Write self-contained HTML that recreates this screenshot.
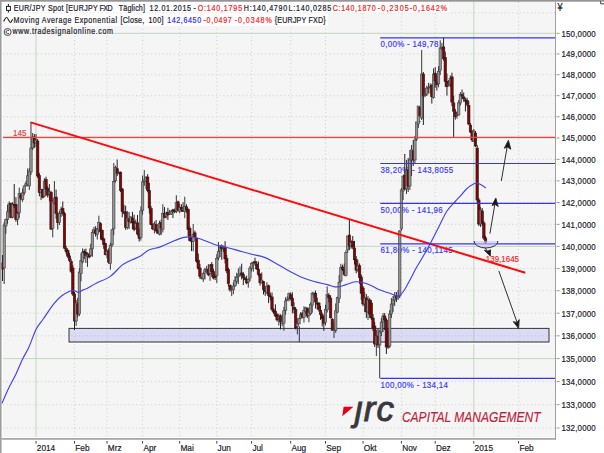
<!DOCTYPE html>
<html><head><meta charset="utf-8"><style>
html,body{margin:0;padding:0;background:#fff;}
body{width:604px;height:453px;overflow:hidden;position:relative;font-family:"Liberation Sans",sans-serif;}
svg{position:absolute;left:0;top:0;font-family:"Liberation Sans",sans-serif;}
</style></head><body>
<svg width="604" height="453" viewBox="0 0 604 453">
<rect x="0" y="0" width="604" height="453" fill="#fff"/>
<rect x="3" y="2" width="552" height="435" fill="#f5f5f5"/>
<line x1="3" y1="428.01" x2="555" y2="428.01" stroke="#c6d2c6" stroke-width="1" stroke-dasharray="1 2.8"/>
<line x1="3" y1="404.71" x2="555" y2="404.71" stroke="#c6d2c6" stroke-width="1" stroke-dasharray="1 2.8"/>
<line x1="3" y1="381.58" x2="555" y2="381.58" stroke="#c6d2c6" stroke-width="1" stroke-dasharray="1 2.8"/>
<line x1="3" y1="358.62" x2="555" y2="358.62" stroke="#c4d4bf" stroke-width="1"/>
<line x1="3" y1="335.83" x2="555" y2="335.83" stroke="#c6d2c6" stroke-width="1" stroke-dasharray="1 2.8"/>
<line x1="3" y1="313.21" x2="555" y2="313.21" stroke="#c6d2c6" stroke-width="1" stroke-dasharray="1 2.8"/>
<line x1="3" y1="290.76" x2="555" y2="290.76" stroke="#c6d2c6" stroke-width="1" stroke-dasharray="1 2.8"/>
<line x1="3" y1="268.46" x2="555" y2="268.46" stroke="#c6d2c6" stroke-width="1" stroke-dasharray="1 2.8"/>
<line x1="3" y1="246.33" x2="555" y2="246.33" stroke="#c4d4bf" stroke-width="1"/>
<line x1="3" y1="224.35" x2="555" y2="224.35" stroke="#c6d2c6" stroke-width="1" stroke-dasharray="1 2.8"/>
<line x1="3" y1="202.53" x2="555" y2="202.53" stroke="#c6d2c6" stroke-width="1" stroke-dasharray="1 2.8"/>
<line x1="3" y1="180.86" x2="555" y2="180.86" stroke="#c6d2c6" stroke-width="1" stroke-dasharray="1 2.8"/>
<line x1="3" y1="159.35" x2="555" y2="159.35" stroke="#c6d2c6" stroke-width="1" stroke-dasharray="1 2.8"/>
<line x1="3" y1="137.98" x2="555" y2="137.98" stroke="#c4d4bf" stroke-width="1"/>
<line x1="3" y1="116.76" x2="555" y2="116.76" stroke="#c6d2c6" stroke-width="1" stroke-dasharray="1 2.8"/>
<line x1="3" y1="95.68" x2="555" y2="95.68" stroke="#c6d2c6" stroke-width="1" stroke-dasharray="1 2.8"/>
<line x1="3" y1="74.75" x2="555" y2="74.75" stroke="#c6d2c6" stroke-width="1" stroke-dasharray="1 2.8"/>
<line x1="3" y1="53.95" x2="555" y2="53.95" stroke="#c6d2c6" stroke-width="1" stroke-dasharray="1 2.8"/>
<line x1="113" y1="33.3" x2="555" y2="33.3" stroke="#c4d4bf" stroke-width="1"/>
<line x1="3" y1="12.78" x2="555" y2="12.78" stroke="#c6d2c6" stroke-width="1" stroke-dasharray="1 2.8"/>
<line x1="36" y1="2" x2="36" y2="437" stroke="#c4d4bf" stroke-width="1"/>
<line x1="74.5" y1="2" x2="74.5" y2="437" stroke="#c6d2c6" stroke-width="1" stroke-dasharray="1 2.8"/>
<line x1="107" y1="2" x2="107" y2="437" stroke="#c6d2c6" stroke-width="1" stroke-dasharray="1 2.8"/>
<line x1="142.6" y1="2" x2="142.6" y2="437" stroke="#c6d2c6" stroke-width="1" stroke-dasharray="1 2.8"/>
<line x1="179.7" y1="2" x2="179.7" y2="437" stroke="#c6d2c6" stroke-width="1" stroke-dasharray="1 2.8"/>
<line x1="216.8" y1="2" x2="216.8" y2="437" stroke="#c6d2c6" stroke-width="1" stroke-dasharray="1 2.8"/>
<line x1="251.6" y1="2" x2="251.6" y2="437" stroke="#c6d2c6" stroke-width="1" stroke-dasharray="1 2.8"/>
<line x1="290.7" y1="2" x2="290.7" y2="437" stroke="#c6d2c6" stroke-width="1" stroke-dasharray="1 2.8"/>
<line x1="325.5" y1="2" x2="325.5" y2="437" stroke="#c6d2c6" stroke-width="1" stroke-dasharray="1 2.8"/>
<line x1="363" y1="2" x2="363" y2="437" stroke="#c6d2c6" stroke-width="1" stroke-dasharray="1 2.8"/>
<line x1="401.4" y1="2" x2="401.4" y2="437" stroke="#c6d2c6" stroke-width="1" stroke-dasharray="1 2.8"/>
<line x1="435.2" y1="2" x2="435.2" y2="437" stroke="#c6d2c6" stroke-width="1" stroke-dasharray="1 2.8"/>
<line x1="473.8" y1="2" x2="473.8" y2="437" stroke="#c4d4bf" stroke-width="1"/>
<line x1="518.6" y1="2" x2="518.6" y2="437" stroke="#c6d2c6" stroke-width="1" stroke-dasharray="1 2.8"/>
<rect x="3" y="1.7" width="446" height="10.8" fill="#fff"/>
<rect x="3" y="13.3" width="325" height="12.4" fill="#fff"/>
<rect x="68.2" y="327.2" width="481.6" height="16.4" fill="none" stroke="#fff" stroke-width="1.2"/>
<rect x="69" y="328.4" width="480" height="13.6" fill="rgba(168,168,244,0.33)" stroke="#404040" stroke-width="1.1"/>
<line x1="299.3" y1="326.2" x2="299.3" y2="342" stroke="#303048" stroke-width="1"/>
<text transform="scale(0.86,1)" x="442.56" y="47.23" textLength="67.09" lengthAdjust="spacing" font-size="9.2" fill="#3a3af8" stroke="#3a3af8" stroke-width="0.2" >0,00% - 149,78</text>
<text transform="scale(0.86,1)" x="442.56" y="173.02" textLength="84.30" lengthAdjust="spacing" font-size="9.2" fill="#3a3af8" stroke="#3a3af8" stroke-width="0.2" >38,20% - 143,8055</text>
<text transform="scale(0.86,1)" x="442.56" y="213" textLength="72.21" lengthAdjust="spacing" font-size="9.2" fill="#3a3af8" stroke="#3a3af8" stroke-width="0.2" >50,00% - 141,96</text>
<text transform="scale(0.86,1)" x="442.56" y="253.21" textLength="83.84" lengthAdjust="spacing" font-size="9.2" fill="#3a3af8" stroke="#3a3af8" stroke-width="0.2" >61,80% - 140,1145</text>
<text transform="scale(0.86,1)" x="442.56" y="387.85" textLength="78.37" lengthAdjust="spacing" font-size="9.2" fill="#3a3af8" stroke="#3a3af8" stroke-width="0.2" >100,00% - 134,14</text>
<line x1="2.52" y1="255" x2="2.52" y2="281" stroke="#202020" stroke-width="1"/>
<rect x="1.32" y="263" width="2.4" height="6" fill="#8e0000" stroke="#1a1a1a" stroke-width="0.6"/>
<line x1="4.2" y1="222" x2="4.2" y2="284" stroke="#383838" stroke-width="1"/>
<rect x="3" y="225" width="2.4" height="43" fill="#939393" stroke="#3a3a3a" stroke-width="0.6"/>
<line x1="5.87" y1="218.68" x2="5.87" y2="233.72" stroke="#383838" stroke-width="1"/>
<rect x="4.67" y="219.73" width="2.4" height="6.25" fill="#939393" stroke="#3a3a3a" stroke-width="0.6"/>
<line x1="7.54" y1="204.59" x2="7.54" y2="223.87" stroke="#383838" stroke-width="1"/>
<rect x="6.34" y="211.78" width="2.4" height="7.65" fill="#939393" stroke="#3a3a3a" stroke-width="0.6"/>
<line x1="9.22" y1="201.22" x2="9.22" y2="212.58" stroke="#383838" stroke-width="1"/>
<rect x="8.02" y="203.76" width="2.4" height="6.87" fill="#939393" stroke="#3a3a3a" stroke-width="0.6"/>
<line x1="10.89" y1="202.72" x2="10.89" y2="218.31" stroke="#202020" stroke-width="1"/>
<rect x="9.69" y="203.38" width="2.4" height="13.92" fill="#8e0000" stroke="#1a1a1a" stroke-width="0.6"/>
<line x1="12.57" y1="202.09" x2="12.57" y2="218.33" stroke="#383838" stroke-width="1"/>
<rect x="11.37" y="204.06" width="2.4" height="13.03" fill="#939393" stroke="#3a3a3a" stroke-width="0.6"/>
<line x1="14.24" y1="184" x2="14.24" y2="207.88" stroke="#202020" stroke-width="1"/>
<rect x="13.04" y="204.65" width="2.4" height="1" fill="#8e0000" stroke="#1a1a1a" stroke-width="0.6"/>
<line x1="15.91" y1="197.09" x2="15.91" y2="221.79" stroke="#202020" stroke-width="1"/>
<rect x="14.71" y="204.56" width="2.4" height="14.84" fill="#8e0000" stroke="#1a1a1a" stroke-width="0.6"/>
<line x1="17.59" y1="211.27" x2="17.59" y2="225.23" stroke="#383838" stroke-width="1"/>
<rect x="16.39" y="213.44" width="2.4" height="5.93" fill="#939393" stroke="#3a3a3a" stroke-width="0.6"/>
<line x1="19.26" y1="187.61" x2="19.26" y2="218.17" stroke="#383838" stroke-width="1"/>
<rect x="18.06" y="193.58" width="2.4" height="19.3" fill="#939393" stroke="#3a3a3a" stroke-width="0.6"/>
<line x1="20.93" y1="192.76" x2="20.93" y2="200.35" stroke="#202020" stroke-width="1"/>
<rect x="19.73" y="194.92" width="2.4" height="3.18" fill="#8e0000" stroke="#1a1a1a" stroke-width="0.6"/>
<line x1="22.61" y1="188.5" x2="22.61" y2="201.74" stroke="#383838" stroke-width="1"/>
<rect x="21.41" y="192.93" width="2.4" height="6.65" fill="#939393" stroke="#3a3a3a" stroke-width="0.6"/>
<line x1="24.28" y1="185.18" x2="24.28" y2="195.23" stroke="#383838" stroke-width="1"/>
<rect x="23.08" y="185.98" width="2.4" height="6.84" fill="#939393" stroke="#3a3a3a" stroke-width="0.6"/>
<line x1="25.96" y1="181.03" x2="25.96" y2="186.84" stroke="#383838" stroke-width="1"/>
<rect x="24.76" y="183.7" width="2.4" height="1.51" fill="#939393" stroke="#3a3a3a" stroke-width="0.6"/>
<line x1="27.63" y1="168.45" x2="27.63" y2="186.39" stroke="#383838" stroke-width="1"/>
<rect x="26.43" y="175.77" width="2.4" height="9.09" fill="#939393" stroke="#3a3a3a" stroke-width="0.6"/>
<line x1="29.3" y1="168" x2="29.3" y2="190" stroke="#383838" stroke-width="1"/>
<rect x="28.1" y="171" width="2.4" height="15" fill="#939393" stroke="#3a3a3a" stroke-width="0.6"/>
<line x1="30.98" y1="122" x2="30.98" y2="175" stroke="#383838" stroke-width="1"/>
<rect x="29.78" y="148" width="2.4" height="24" fill="#939393" stroke="#3a3a3a" stroke-width="0.6"/>
<line x1="32.65" y1="133" x2="32.65" y2="150" stroke="#383838" stroke-width="1"/>
<rect x="31.45" y="137" width="2.4" height="11" fill="#939393" stroke="#3a3a3a" stroke-width="0.6"/>
<line x1="34.33" y1="134" x2="34.33" y2="148" stroke="#202020" stroke-width="1"/>
<rect x="33.13" y="137" width="2.4" height="6" fill="#8e0000" stroke="#1a1a1a" stroke-width="0.6"/>
<line x1="36" y1="134" x2="36" y2="147" stroke="#383838" stroke-width="1"/>
<rect x="34.8" y="140" width="2.4" height="3" fill="#939393" stroke="#3a3a3a" stroke-width="0.6"/>
<line x1="37.67" y1="139" x2="37.67" y2="178" stroke="#202020" stroke-width="1"/>
<rect x="36.47" y="141" width="2.4" height="35" fill="#8e0000" stroke="#1a1a1a" stroke-width="0.6"/>
<line x1="39.35" y1="172.9" x2="39.35" y2="196.32" stroke="#202020" stroke-width="1"/>
<rect x="38.15" y="175.59" width="2.4" height="16.98" fill="#8e0000" stroke="#1a1a1a" stroke-width="0.6"/>
<line x1="41.02" y1="188.91" x2="41.02" y2="200.08" stroke="#383838" stroke-width="1"/>
<rect x="39.82" y="189.72" width="2.4" height="2.4" fill="#939393" stroke="#3a3a3a" stroke-width="0.6"/>
<line x1="42.7" y1="188.91" x2="42.7" y2="198.41" stroke="#202020" stroke-width="1"/>
<rect x="41.5" y="189.67" width="2.4" height="7.58" fill="#8e0000" stroke="#1a1a1a" stroke-width="0.6"/>
<line x1="44.37" y1="178.22" x2="44.37" y2="197.1" stroke="#383838" stroke-width="1"/>
<rect x="43.17" y="181.1" width="2.4" height="15.13" fill="#939393" stroke="#3a3a3a" stroke-width="0.6"/>
<line x1="46.04" y1="176.74" x2="46.04" y2="195.52" stroke="#202020" stroke-width="1"/>
<rect x="44.84" y="179.68" width="2.4" height="9.35" fill="#8e0000" stroke="#1a1a1a" stroke-width="0.6"/>
<line x1="47.72" y1="186.21" x2="47.72" y2="197.5" stroke="#202020" stroke-width="1"/>
<rect x="46.52" y="188.64" width="2.4" height="6.42" fill="#8e0000" stroke="#1a1a1a" stroke-width="0.6"/>
<line x1="49.39" y1="183.97" x2="49.39" y2="201.26" stroke="#383838" stroke-width="1"/>
<rect x="48.19" y="191.9" width="2.4" height="2.33" fill="#939393" stroke="#3a3a3a" stroke-width="0.6"/>
<line x1="51.07" y1="190.82" x2="51.07" y2="229.73" stroke="#202020" stroke-width="1"/>
<rect x="49.87" y="192.62" width="2.4" height="36.54" fill="#8e0000" stroke="#1a1a1a" stroke-width="0.6"/>
<line x1="52.74" y1="199.52" x2="52.74" y2="237.28" stroke="#383838" stroke-width="1"/>
<rect x="51.54" y="201.75" width="2.4" height="26.74" fill="#939393" stroke="#3a3a3a" stroke-width="0.6"/>
<line x1="54.41" y1="181" x2="54.41" y2="204.28" stroke="#383838" stroke-width="1"/>
<rect x="53.21" y="197.96" width="2.4" height="5.25" fill="#939393" stroke="#3a3a3a" stroke-width="0.6"/>
<line x1="56.09" y1="189.57" x2="56.09" y2="218.81" stroke="#202020" stroke-width="1"/>
<rect x="54.89" y="197.07" width="2.4" height="16.34" fill="#8e0000" stroke="#1a1a1a" stroke-width="0.6"/>
<line x1="57.76" y1="212.16" x2="57.76" y2="229.53" stroke="#202020" stroke-width="1"/>
<rect x="56.56" y="214.32" width="2.4" height="8.31" fill="#8e0000" stroke="#1a1a1a" stroke-width="0.6"/>
<line x1="59.43" y1="211" x2="59.43" y2="225.06" stroke="#383838" stroke-width="1"/>
<rect x="58.23" y="213.47" width="2.4" height="9.08" fill="#939393" stroke="#3a3a3a" stroke-width="0.6"/>
<line x1="61.11" y1="206.66" x2="61.11" y2="217.01" stroke="#383838" stroke-width="1"/>
<rect x="59.91" y="209.53" width="2.4" height="3.63" fill="#939393" stroke="#3a3a3a" stroke-width="0.6"/>
<line x1="62.78" y1="201.45" x2="62.78" y2="215.69" stroke="#202020" stroke-width="1"/>
<rect x="61.58" y="208.48" width="2.4" height="4.64" fill="#8e0000" stroke="#1a1a1a" stroke-width="0.6"/>
<line x1="64.46" y1="211.72" x2="64.46" y2="248.72" stroke="#202020" stroke-width="1"/>
<rect x="63.26" y="213.59" width="2.4" height="34.59" fill="#8e0000" stroke="#1a1a1a" stroke-width="0.6"/>
<line x1="66.13" y1="245.79" x2="66.13" y2="254.13" stroke="#202020" stroke-width="1"/>
<rect x="64.93" y="248.63" width="2.4" height="2.82" fill="#8e0000" stroke="#1a1a1a" stroke-width="0.6"/>
<line x1="67.8" y1="249.35" x2="67.8" y2="258.07" stroke="#202020" stroke-width="1"/>
<rect x="66.6" y="250.58" width="2.4" height="5.53" fill="#8e0000" stroke="#1a1a1a" stroke-width="0.6"/>
<line x1="69.48" y1="253.09" x2="69.48" y2="262" stroke="#202020" stroke-width="1"/>
<rect x="68.28" y="255.86" width="2.4" height="4.49" fill="#8e0000" stroke="#1a1a1a" stroke-width="0.6"/>
<line x1="71.15" y1="258.78" x2="71.15" y2="273.13" stroke="#202020" stroke-width="1"/>
<rect x="69.95" y="261.57" width="2.4" height="9.73" fill="#8e0000" stroke="#1a1a1a" stroke-width="0.6"/>
<line x1="72.83" y1="265" x2="72.83" y2="296" stroke="#202020" stroke-width="1"/>
<rect x="71.63" y="268" width="2.4" height="26" fill="#8e0000" stroke="#1a1a1a" stroke-width="0.6"/>
<line x1="74.5" y1="292" x2="74.5" y2="330" stroke="#202020" stroke-width="1"/>
<rect x="73.3" y="294" width="2.4" height="27" fill="#8e0000" stroke="#1a1a1a" stroke-width="0.6"/>
<line x1="76.12" y1="300" x2="76.12" y2="326" stroke="#383838" stroke-width="1"/>
<rect x="74.92" y="303" width="2.4" height="18" fill="#939393" stroke="#3a3a3a" stroke-width="0.6"/>
<line x1="77.75" y1="298" x2="77.75" y2="317" stroke="#202020" stroke-width="1"/>
<rect x="76.55" y="304" width="2.4" height="10" fill="#8e0000" stroke="#1a1a1a" stroke-width="0.6"/>
<line x1="79.38" y1="268" x2="79.38" y2="316" stroke="#383838" stroke-width="1"/>
<rect x="78.17" y="272" width="2.4" height="42" fill="#939393" stroke="#3a3a3a" stroke-width="0.6"/>
<line x1="81" y1="253.12" x2="81" y2="281.36" stroke="#383838" stroke-width="1"/>
<rect x="79.8" y="260.51" width="2.4" height="12.82" fill="#939393" stroke="#3a3a3a" stroke-width="0.6"/>
<line x1="82.62" y1="248.46" x2="82.62" y2="263.44" stroke="#383838" stroke-width="1"/>
<rect x="81.42" y="252.15" width="2.4" height="9.69" fill="#939393" stroke="#3a3a3a" stroke-width="0.6"/>
<line x1="84.25" y1="249.19" x2="84.25" y2="259.16" stroke="#202020" stroke-width="1"/>
<rect x="83.05" y="251.37" width="2.4" height="1" fill="#8e0000" stroke="#1a1a1a" stroke-width="0.6"/>
<line x1="85.88" y1="248.61" x2="85.88" y2="263.01" stroke="#202020" stroke-width="1"/>
<rect x="84.67" y="252.32" width="2.4" height="2.85" fill="#8e0000" stroke="#1a1a1a" stroke-width="0.6"/>
<line x1="87.5" y1="252.55" x2="87.5" y2="266.86" stroke="#383838" stroke-width="1"/>
<rect x="86.3" y="254.26" width="2.4" height="2.26" fill="#939393" stroke="#3a3a3a" stroke-width="0.6"/>
<line x1="89.12" y1="252.71" x2="89.12" y2="258.35" stroke="#202020" stroke-width="1"/>
<rect x="87.92" y="254.06" width="2.4" height="3" fill="#8e0000" stroke="#1a1a1a" stroke-width="0.6"/>
<line x1="90.75" y1="243.69" x2="90.75" y2="256.94" stroke="#383838" stroke-width="1"/>
<rect x="89.55" y="248.89" width="2.4" height="6.72" fill="#939393" stroke="#3a3a3a" stroke-width="0.6"/>
<line x1="92.38" y1="229.71" x2="92.38" y2="256.79" stroke="#383838" stroke-width="1"/>
<rect x="91.17" y="232.68" width="2.4" height="16.25" fill="#939393" stroke="#3a3a3a" stroke-width="0.6"/>
<line x1="94" y1="226.79" x2="94" y2="232.8" stroke="#383838" stroke-width="1"/>
<rect x="92.8" y="229.24" width="2.4" height="2.74" fill="#939393" stroke="#3a3a3a" stroke-width="0.6"/>
<line x1="95.62" y1="226.18" x2="95.62" y2="236.59" stroke="#202020" stroke-width="1"/>
<rect x="94.42" y="230.47" width="2.4" height="3.33" fill="#8e0000" stroke="#1a1a1a" stroke-width="0.6"/>
<line x1="97.25" y1="227.98" x2="97.25" y2="239.52" stroke="#383838" stroke-width="1"/>
<rect x="96.05" y="228.63" width="2.4" height="5.77" fill="#939393" stroke="#3a3a3a" stroke-width="0.6"/>
<line x1="98.88" y1="215.64" x2="98.88" y2="232.58" stroke="#383838" stroke-width="1"/>
<rect x="97.67" y="222.65" width="2.4" height="7.3" fill="#939393" stroke="#3a3a3a" stroke-width="0.6"/>
<line x1="100.5" y1="222.39" x2="100.5" y2="239.21" stroke="#202020" stroke-width="1"/>
<rect x="99.3" y="223.73" width="2.4" height="7.85" fill="#8e0000" stroke="#1a1a1a" stroke-width="0.6"/>
<line x1="102.12" y1="229.37" x2="102.12" y2="240.67" stroke="#202020" stroke-width="1"/>
<rect x="100.92" y="230.47" width="2.4" height="9.3" fill="#8e0000" stroke="#1a1a1a" stroke-width="0.6"/>
<line x1="103.75" y1="237.61" x2="103.75" y2="248.84" stroke="#202020" stroke-width="1"/>
<rect x="102.55" y="238.87" width="2.4" height="5.52" fill="#8e0000" stroke="#1a1a1a" stroke-width="0.6"/>
<line x1="105.38" y1="242.88" x2="105.38" y2="255.24" stroke="#202020" stroke-width="1"/>
<rect x="104.17" y="243.42" width="2.4" height="11.29" fill="#8e0000" stroke="#1a1a1a" stroke-width="0.6"/>
<line x1="107" y1="249.45" x2="107" y2="258.39" stroke="#383838" stroke-width="1"/>
<rect x="105.8" y="251.14" width="2.4" height="3.72" fill="#939393" stroke="#3a3a3a" stroke-width="0.6"/>
<line x1="108.7" y1="248.35" x2="108.7" y2="263.86" stroke="#202020" stroke-width="1"/>
<rect x="107.5" y="250.94" width="2.4" height="11.15" fill="#8e0000" stroke="#1a1a1a" stroke-width="0.6"/>
<line x1="110.39" y1="242.61" x2="110.39" y2="269.72" stroke="#383838" stroke-width="1"/>
<rect x="109.19" y="245.19" width="2.4" height="18.34" fill="#939393" stroke="#3a3a3a" stroke-width="0.6"/>
<line x1="112.09" y1="228.99" x2="112.09" y2="247.09" stroke="#383838" stroke-width="1"/>
<rect x="110.89" y="229.82" width="2.4" height="14.92" fill="#939393" stroke="#3a3a3a" stroke-width="0.6"/>
<line x1="113.78" y1="163" x2="113.78" y2="235.16" stroke="#383838" stroke-width="1"/>
<rect x="112.58" y="181.63" width="2.4" height="47.18" fill="#939393" stroke="#3a3a3a" stroke-width="0.6"/>
<line x1="115.48" y1="165.68" x2="115.48" y2="182.47" stroke="#383838" stroke-width="1"/>
<rect x="114.28" y="167.33" width="2.4" height="13.52" fill="#939393" stroke="#3a3a3a" stroke-width="0.6"/>
<line x1="117.17" y1="159.53" x2="117.17" y2="176.1" stroke="#202020" stroke-width="1"/>
<rect x="115.97" y="168.72" width="2.4" height="4.47" fill="#8e0000" stroke="#1a1a1a" stroke-width="0.6"/>
<line x1="118.87" y1="171.09" x2="118.87" y2="174.51" stroke="#383838" stroke-width="1"/>
<rect x="117.67" y="172.55" width="2.4" height="1" fill="#939393" stroke="#3a3a3a" stroke-width="0.6"/>
<line x1="120.56" y1="171.4" x2="120.56" y2="191.97" stroke="#202020" stroke-width="1"/>
<rect x="119.36" y="172.56" width="2.4" height="17.91" fill="#8e0000" stroke="#1a1a1a" stroke-width="0.6"/>
<line x1="122.26" y1="187.95" x2="122.26" y2="217.25" stroke="#202020" stroke-width="1"/>
<rect x="121.06" y="189.03" width="2.4" height="22.57" fill="#8e0000" stroke="#1a1a1a" stroke-width="0.6"/>
<line x1="123.95" y1="204.68" x2="123.95" y2="214.26" stroke="#202020" stroke-width="1"/>
<rect x="122.75" y="212.08" width="2.4" height="1" fill="#8e0000" stroke="#1a1a1a" stroke-width="0.6"/>
<line x1="125.65" y1="205.68" x2="125.65" y2="229.82" stroke="#202020" stroke-width="1"/>
<rect x="124.45" y="211.9" width="2.4" height="15.34" fill="#8e0000" stroke="#1a1a1a" stroke-width="0.6"/>
<line x1="127.34" y1="211.04" x2="127.34" y2="229.43" stroke="#383838" stroke-width="1"/>
<rect x="126.14" y="218.1" width="2.4" height="9.52" fill="#939393" stroke="#3a3a3a" stroke-width="0.6"/>
<line x1="129.04" y1="211.97" x2="129.04" y2="228.92" stroke="#202020" stroke-width="1"/>
<rect x="127.84" y="219.1" width="2.4" height="2.36" fill="#8e0000" stroke="#1a1a1a" stroke-width="0.6"/>
<line x1="130.73" y1="216.38" x2="130.73" y2="223.44" stroke="#383838" stroke-width="1"/>
<rect x="129.53" y="216.95" width="2.4" height="5.08" fill="#939393" stroke="#3a3a3a" stroke-width="0.6"/>
<line x1="132.43" y1="211.82" x2="132.43" y2="229.25" stroke="#202020" stroke-width="1"/>
<rect x="131.23" y="217.96" width="2.4" height="4.89" fill="#8e0000" stroke="#1a1a1a" stroke-width="0.6"/>
<line x1="134.12" y1="214.62" x2="134.12" y2="231.19" stroke="#202020" stroke-width="1"/>
<rect x="132.92" y="221.36" width="2.4" height="7.99" fill="#8e0000" stroke="#1a1a1a" stroke-width="0.6"/>
<line x1="135.82" y1="219.46" x2="135.82" y2="229.21" stroke="#383838" stroke-width="1"/>
<rect x="134.62" y="223.72" width="2.4" height="4.33" fill="#939393" stroke="#3a3a3a" stroke-width="0.6"/>
<line x1="137.51" y1="214.96" x2="137.51" y2="235.46" stroke="#202020" stroke-width="1"/>
<rect x="136.31" y="222.84" width="2.4" height="11.17" fill="#8e0000" stroke="#1a1a1a" stroke-width="0.6"/>
<line x1="139.21" y1="228.47" x2="139.21" y2="241.64" stroke="#202020" stroke-width="1"/>
<rect x="138.01" y="234.56" width="2.4" height="3.7" fill="#8e0000" stroke="#1a1a1a" stroke-width="0.6"/>
<line x1="140.9" y1="206.37" x2="140.9" y2="240.58" stroke="#383838" stroke-width="1"/>
<rect x="139.7" y="210.89" width="2.4" height="26.62" fill="#939393" stroke="#3a3a3a" stroke-width="0.6"/>
<line x1="142.6" y1="175.43" x2="142.6" y2="214.66" stroke="#383838" stroke-width="1"/>
<rect x="141.4" y="181.89" width="2.4" height="28.31" fill="#939393" stroke="#3a3a3a" stroke-width="0.6"/>
<line x1="144.29" y1="170" x2="144.29" y2="185.78" stroke="#383838" stroke-width="1"/>
<rect x="143.09" y="179.8" width="2.4" height="1.99" fill="#939393" stroke="#3a3a3a" stroke-width="0.6"/>
<line x1="145.97" y1="176.1" x2="145.97" y2="188.95" stroke="#383838" stroke-width="1"/>
<rect x="144.77" y="177.74" width="2.4" height="3.37" fill="#939393" stroke="#3a3a3a" stroke-width="0.6"/>
<line x1="147.66" y1="174.19" x2="147.66" y2="192.33" stroke="#202020" stroke-width="1"/>
<rect x="146.46" y="177.05" width="2.4" height="13.32" fill="#8e0000" stroke="#1a1a1a" stroke-width="0.6"/>
<line x1="149.35" y1="182.91" x2="149.35" y2="213.57" stroke="#202020" stroke-width="1"/>
<rect x="148.15" y="190.44" width="2.4" height="17.58" fill="#8e0000" stroke="#1a1a1a" stroke-width="0.6"/>
<line x1="151.03" y1="205.89" x2="151.03" y2="225.23" stroke="#202020" stroke-width="1"/>
<rect x="149.83" y="208.64" width="2.4" height="16.03" fill="#8e0000" stroke="#1a1a1a" stroke-width="0.6"/>
<line x1="152.72" y1="223.38" x2="152.72" y2="230.11" stroke="#202020" stroke-width="1"/>
<rect x="151.52" y="224.64" width="2.4" height="4.11" fill="#8e0000" stroke="#1a1a1a" stroke-width="0.6"/>
<line x1="154.4" y1="221.45" x2="154.4" y2="233.37" stroke="#383838" stroke-width="1"/>
<rect x="153.2" y="223.83" width="2.4" height="5.94" fill="#939393" stroke="#3a3a3a" stroke-width="0.6"/>
<line x1="156.09" y1="220.02" x2="156.09" y2="232.2" stroke="#202020" stroke-width="1"/>
<rect x="154.89" y="224.47" width="2.4" height="6.24" fill="#8e0000" stroke="#1a1a1a" stroke-width="0.6"/>
<line x1="157.78" y1="229.41" x2="157.78" y2="233.79" stroke="#202020" stroke-width="1"/>
<rect x="156.58" y="230.98" width="2.4" height="2.19" fill="#8e0000" stroke="#1a1a1a" stroke-width="0.6"/>
<line x1="159.46" y1="220.7" x2="159.46" y2="235.33" stroke="#383838" stroke-width="1"/>
<rect x="158.26" y="223.54" width="2.4" height="10.63" fill="#939393" stroke="#3a3a3a" stroke-width="0.6"/>
<line x1="161.15" y1="219.72" x2="161.15" y2="235.07" stroke="#202020" stroke-width="1"/>
<rect x="159.95" y="222.61" width="2.4" height="5.41" fill="#8e0000" stroke="#1a1a1a" stroke-width="0.6"/>
<line x1="162.84" y1="204.24" x2="162.84" y2="232.5" stroke="#383838" stroke-width="1"/>
<rect x="161.64" y="213.44" width="2.4" height="15.81" fill="#939393" stroke="#3a3a3a" stroke-width="0.6"/>
<line x1="164.52" y1="207.07" x2="164.52" y2="217.93" stroke="#202020" stroke-width="1"/>
<rect x="163.32" y="213.29" width="2.4" height="4.02" fill="#8e0000" stroke="#1a1a1a" stroke-width="0.6"/>
<line x1="166.21" y1="211.69" x2="166.21" y2="218.53" stroke="#383838" stroke-width="1"/>
<rect x="165.01" y="213.05" width="2.4" height="3.13" fill="#939393" stroke="#3a3a3a" stroke-width="0.6"/>
<line x1="167.9" y1="207.83" x2="167.9" y2="219.9" stroke="#202020" stroke-width="1"/>
<rect x="166.7" y="212.33" width="2.4" height="2.59" fill="#8e0000" stroke="#1a1a1a" stroke-width="0.6"/>
<line x1="169.58" y1="209.9" x2="169.58" y2="214.96" stroke="#383838" stroke-width="1"/>
<rect x="168.38" y="212.66" width="2.4" height="1.25" fill="#939393" stroke="#3a3a3a" stroke-width="0.6"/>
<line x1="171.27" y1="210.29" x2="171.27" y2="214.88" stroke="#383838" stroke-width="1"/>
<rect x="170.07" y="211.14" width="2.4" height="3.01" fill="#939393" stroke="#3a3a3a" stroke-width="0.6"/>
<line x1="172.95" y1="208.77" x2="172.95" y2="218.08" stroke="#202020" stroke-width="1"/>
<rect x="171.75" y="209.92" width="2.4" height="1" fill="#8e0000" stroke="#1a1a1a" stroke-width="0.6"/>
<line x1="174.64" y1="208.57" x2="174.64" y2="213.13" stroke="#202020" stroke-width="1"/>
<rect x="173.44" y="210.38" width="2.4" height="1.4" fill="#8e0000" stroke="#1a1a1a" stroke-width="0.6"/>
<line x1="176.33" y1="195.2" x2="176.33" y2="213.19" stroke="#383838" stroke-width="1"/>
<rect x="175.13" y="202.71" width="2.4" height="8.41" fill="#939393" stroke="#3a3a3a" stroke-width="0.6"/>
<line x1="178.01" y1="200.73" x2="178.01" y2="211.61" stroke="#202020" stroke-width="1"/>
<rect x="176.81" y="201.85" width="2.4" height="8.14" fill="#8e0000" stroke="#1a1a1a" stroke-width="0.6"/>
<line x1="179.7" y1="204.27" x2="179.7" y2="213.31" stroke="#383838" stroke-width="1"/>
<rect x="178.5" y="207.38" width="2.4" height="3.66" fill="#939393" stroke="#3a3a3a" stroke-width="0.6"/>
<line x1="181.39" y1="204.29" x2="181.39" y2="211.97" stroke="#202020" stroke-width="1"/>
<rect x="180.19" y="207.3" width="2.4" height="1.86" fill="#8e0000" stroke="#1a1a1a" stroke-width="0.6"/>
<line x1="183.07" y1="202.23" x2="183.07" y2="211.7" stroke="#202020" stroke-width="1"/>
<rect x="181.87" y="210.22" width="2.4" height="1" fill="#8e0000" stroke="#1a1a1a" stroke-width="0.6"/>
<line x1="184.76" y1="196.68" x2="184.76" y2="218.19" stroke="#383838" stroke-width="1"/>
<rect x="183.56" y="206.57" width="2.4" height="4.79" fill="#939393" stroke="#3a3a3a" stroke-width="0.6"/>
<line x1="186.45" y1="204.27" x2="186.45" y2="212.78" stroke="#202020" stroke-width="1"/>
<rect x="185.25" y="206.72" width="2.4" height="3.26" fill="#8e0000" stroke="#1a1a1a" stroke-width="0.6"/>
<line x1="188.13" y1="208.26" x2="188.13" y2="236.11" stroke="#202020" stroke-width="1"/>
<rect x="186.93" y="209.39" width="2.4" height="20.23" fill="#8e0000" stroke="#1a1a1a" stroke-width="0.6"/>
<line x1="189.82" y1="226.37" x2="189.82" y2="241.42" stroke="#202020" stroke-width="1"/>
<rect x="188.62" y="228.33" width="2.4" height="12.03" fill="#8e0000" stroke="#1a1a1a" stroke-width="0.6"/>
<line x1="191.5" y1="237.24" x2="191.5" y2="251.09" stroke="#202020" stroke-width="1"/>
<rect x="190.3" y="238.89" width="2.4" height="2.62" fill="#8e0000" stroke="#1a1a1a" stroke-width="0.6"/>
<line x1="193.19" y1="224" x2="193.19" y2="251.26" stroke="#383838" stroke-width="1"/>
<rect x="191.99" y="234.27" width="2.4" height="7.17" fill="#939393" stroke="#3a3a3a" stroke-width="0.6"/>
<line x1="194.88" y1="230.65" x2="194.88" y2="238.01" stroke="#202020" stroke-width="1"/>
<rect x="193.68" y="232.84" width="2.4" height="4.03" fill="#8e0000" stroke="#1a1a1a" stroke-width="0.6"/>
<line x1="196.56" y1="237.56" x2="196.56" y2="262.68" stroke="#202020" stroke-width="1"/>
<rect x="195.36" y="238.14" width="2.4" height="22.98" fill="#8e0000" stroke="#1a1a1a" stroke-width="0.6"/>
<line x1="198.25" y1="253.52" x2="198.25" y2="269.56" stroke="#202020" stroke-width="1"/>
<rect x="197.05" y="260.22" width="2.4" height="8.33" fill="#8e0000" stroke="#1a1a1a" stroke-width="0.6"/>
<line x1="199.94" y1="263.83" x2="199.94" y2="278.91" stroke="#202020" stroke-width="1"/>
<rect x="198.74" y="267.99" width="2.4" height="8.52" fill="#8e0000" stroke="#1a1a1a" stroke-width="0.6"/>
<line x1="201.62" y1="276.61" x2="201.62" y2="279.41" stroke="#383838" stroke-width="1"/>
<rect x="200.42" y="277.58" width="2.4" height="1" fill="#939393" stroke="#3a3a3a" stroke-width="0.6"/>
<line x1="203.31" y1="271.87" x2="203.31" y2="281.86" stroke="#383838" stroke-width="1"/>
<rect x="202.11" y="273.36" width="2.4" height="5.57" fill="#939393" stroke="#3a3a3a" stroke-width="0.6"/>
<line x1="205" y1="267.75" x2="205" y2="279.43" stroke="#383838" stroke-width="1"/>
<rect x="203.8" y="269.23" width="2.4" height="2.78" fill="#939393" stroke="#3a3a3a" stroke-width="0.6"/>
<line x1="206.68" y1="265.83" x2="206.68" y2="273.56" stroke="#383838" stroke-width="1"/>
<rect x="205.48" y="270.47" width="2.4" height="1" fill="#939393" stroke="#3a3a3a" stroke-width="0.6"/>
<line x1="208.37" y1="264.18" x2="208.37" y2="276.13" stroke="#202020" stroke-width="1"/>
<rect x="207.17" y="269.07" width="2.4" height="5.73" fill="#8e0000" stroke="#1a1a1a" stroke-width="0.6"/>
<line x1="210.05" y1="264.12" x2="210.05" y2="280.8" stroke="#383838" stroke-width="1"/>
<rect x="208.85" y="265.5" width="2.4" height="7.8" fill="#939393" stroke="#3a3a3a" stroke-width="0.6"/>
<line x1="211.74" y1="262.07" x2="211.74" y2="276.78" stroke="#202020" stroke-width="1"/>
<rect x="210.54" y="264.63" width="2.4" height="7" fill="#8e0000" stroke="#1a1a1a" stroke-width="0.6"/>
<line x1="213.43" y1="268.74" x2="213.43" y2="279.35" stroke="#202020" stroke-width="1"/>
<rect x="212.23" y="271.54" width="2.4" height="6.4" fill="#8e0000" stroke="#1a1a1a" stroke-width="0.6"/>
<line x1="215.11" y1="274.01" x2="215.11" y2="280.04" stroke="#202020" stroke-width="1"/>
<rect x="213.91" y="276.53" width="2.4" height="1" fill="#8e0000" stroke="#1a1a1a" stroke-width="0.6"/>
<line x1="216.8" y1="254.27" x2="216.8" y2="283.01" stroke="#383838" stroke-width="1"/>
<rect x="215.6" y="258.55" width="2.4" height="16.97" fill="#939393" stroke="#3a3a3a" stroke-width="0.6"/>
<line x1="218.46" y1="242.06" x2="218.46" y2="260.16" stroke="#383838" stroke-width="1"/>
<rect x="217.26" y="251.52" width="2.4" height="6.34" fill="#939393" stroke="#3a3a3a" stroke-width="0.6"/>
<line x1="220.11" y1="245.13" x2="220.11" y2="257.02" stroke="#383838" stroke-width="1"/>
<rect x="218.91" y="247.51" width="2.4" height="3.34" fill="#939393" stroke="#3a3a3a" stroke-width="0.6"/>
<line x1="221.77" y1="244.4" x2="221.77" y2="259.76" stroke="#202020" stroke-width="1"/>
<rect x="220.57" y="246.09" width="2.4" height="2.86" fill="#8e0000" stroke="#1a1a1a" stroke-width="0.6"/>
<line x1="223.43" y1="245.57" x2="223.43" y2="252.11" stroke="#383838" stroke-width="1"/>
<rect x="222.23" y="247.3" width="2.4" height="1" fill="#939393" stroke="#3a3a3a" stroke-width="0.6"/>
<line x1="225.09" y1="241.15" x2="225.09" y2="263.53" stroke="#202020" stroke-width="1"/>
<rect x="223.89" y="248.01" width="2.4" height="10.88" fill="#8e0000" stroke="#1a1a1a" stroke-width="0.6"/>
<line x1="226.74" y1="255.08" x2="226.74" y2="273.21" stroke="#202020" stroke-width="1"/>
<rect x="225.54" y="258.48" width="2.4" height="12.35" fill="#8e0000" stroke="#1a1a1a" stroke-width="0.6"/>
<line x1="228.4" y1="267.64" x2="228.4" y2="286.63" stroke="#202020" stroke-width="1"/>
<rect x="227.2" y="269.52" width="2.4" height="14.15" fill="#8e0000" stroke="#1a1a1a" stroke-width="0.6"/>
<line x1="230.06" y1="284.43" x2="230.06" y2="291.68" stroke="#202020" stroke-width="1"/>
<rect x="228.86" y="285.14" width="2.4" height="4.79" fill="#8e0000" stroke="#1a1a1a" stroke-width="0.6"/>
<line x1="231.71" y1="287.2" x2="231.71" y2="296.14" stroke="#383838" stroke-width="1"/>
<rect x="230.51" y="288.74" width="2.4" height="1.04" fill="#939393" stroke="#3a3a3a" stroke-width="0.6"/>
<line x1="233.37" y1="282.54" x2="233.37" y2="294.25" stroke="#383838" stroke-width="1"/>
<rect x="232.17" y="286.14" width="2.4" height="3.64" fill="#939393" stroke="#3a3a3a" stroke-width="0.6"/>
<line x1="235.03" y1="276.15" x2="235.03" y2="286.87" stroke="#383838" stroke-width="1"/>
<rect x="233.83" y="280.14" width="2.4" height="5.62" fill="#939393" stroke="#3a3a3a" stroke-width="0.6"/>
<line x1="236.69" y1="272.73" x2="236.69" y2="284.28" stroke="#383838" stroke-width="1"/>
<rect x="235.49" y="277.36" width="2.4" height="3.93" fill="#939393" stroke="#3a3a3a" stroke-width="0.6"/>
<line x1="238.34" y1="268.27" x2="238.34" y2="283.96" stroke="#383838" stroke-width="1"/>
<rect x="237.14" y="274.53" width="2.4" height="2.02" fill="#939393" stroke="#3a3a3a" stroke-width="0.6"/>
<line x1="240" y1="266.38" x2="240" y2="276.73" stroke="#383838" stroke-width="1"/>
<rect x="238.8" y="273.96" width="2.4" height="1.54" fill="#939393" stroke="#3a3a3a" stroke-width="0.6"/>
<line x1="241.66" y1="263.69" x2="241.66" y2="279.44" stroke="#202020" stroke-width="1"/>
<rect x="240.46" y="273.02" width="2.4" height="1.55" fill="#8e0000" stroke="#1a1a1a" stroke-width="0.6"/>
<line x1="243.31" y1="271.98" x2="243.31" y2="285.07" stroke="#202020" stroke-width="1"/>
<rect x="242.11" y="274.43" width="2.4" height="3.22" fill="#8e0000" stroke="#1a1a1a" stroke-width="0.6"/>
<line x1="244.97" y1="276.58" x2="244.97" y2="280.4" stroke="#202020" stroke-width="1"/>
<rect x="243.77" y="278.01" width="2.4" height="1.38" fill="#8e0000" stroke="#1a1a1a" stroke-width="0.6"/>
<line x1="246.63" y1="275.67" x2="246.63" y2="284.24" stroke="#202020" stroke-width="1"/>
<rect x="245.43" y="279.69" width="2.4" height="3.23" fill="#8e0000" stroke="#1a1a1a" stroke-width="0.6"/>
<line x1="248.29" y1="278.32" x2="248.29" y2="287.71" stroke="#383838" stroke-width="1"/>
<rect x="247.09" y="279.33" width="2.4" height="2.65" fill="#939393" stroke="#3a3a3a" stroke-width="0.6"/>
<line x1="249.94" y1="266.12" x2="249.94" y2="281.59" stroke="#383838" stroke-width="1"/>
<rect x="248.74" y="267.99" width="2.4" height="10.14" fill="#939393" stroke="#3a3a3a" stroke-width="0.6"/>
<line x1="251.6" y1="262.29" x2="251.6" y2="271.46" stroke="#383838" stroke-width="1"/>
<rect x="250.4" y="263.49" width="2.4" height="5.09" fill="#939393" stroke="#3a3a3a" stroke-width="0.6"/>
<line x1="253.3" y1="261.08" x2="253.3" y2="271.68" stroke="#383838" stroke-width="1"/>
<rect x="252.1" y="262.62" width="2.4" height="1.07" fill="#939393" stroke="#3a3a3a" stroke-width="0.6"/>
<line x1="255" y1="257.7" x2="255" y2="265.76" stroke="#202020" stroke-width="1"/>
<rect x="253.8" y="261.71" width="2.4" height="1.3" fill="#8e0000" stroke="#1a1a1a" stroke-width="0.6"/>
<line x1="256.7" y1="261.26" x2="256.7" y2="269.83" stroke="#202020" stroke-width="1"/>
<rect x="255.5" y="263.97" width="2.4" height="4.95" fill="#8e0000" stroke="#1a1a1a" stroke-width="0.6"/>
<line x1="258.4" y1="261.53" x2="258.4" y2="276.36" stroke="#202020" stroke-width="1"/>
<rect x="257.2" y="269.08" width="2.4" height="5.23" fill="#8e0000" stroke="#1a1a1a" stroke-width="0.6"/>
<line x1="260.1" y1="273.11" x2="260.1" y2="285.63" stroke="#202020" stroke-width="1"/>
<rect x="258.9" y="274.32" width="2.4" height="8.5" fill="#8e0000" stroke="#1a1a1a" stroke-width="0.6"/>
<line x1="261.8" y1="272.37" x2="261.8" y2="283.61" stroke="#383838" stroke-width="1"/>
<rect x="260.6" y="280.2" width="2.4" height="2.59" fill="#939393" stroke="#3a3a3a" stroke-width="0.6"/>
<line x1="263.5" y1="281" x2="263.5" y2="294.48" stroke="#202020" stroke-width="1"/>
<rect x="262.3" y="281.63" width="2.4" height="7.91" fill="#8e0000" stroke="#1a1a1a" stroke-width="0.6"/>
<line x1="265.2" y1="286.1" x2="265.2" y2="295.82" stroke="#202020" stroke-width="1"/>
<rect x="264" y="289.9" width="2.4" height="1.8" fill="#8e0000" stroke="#1a1a1a" stroke-width="0.6"/>
<line x1="266.9" y1="282.24" x2="266.9" y2="294.24" stroke="#383838" stroke-width="1"/>
<rect x="265.7" y="286.15" width="2.4" height="6.59" fill="#939393" stroke="#3a3a3a" stroke-width="0.6"/>
<line x1="268.6" y1="284.69" x2="268.6" y2="303.13" stroke="#202020" stroke-width="1"/>
<rect x="267.4" y="285.8" width="2.4" height="9.84" fill="#8e0000" stroke="#1a1a1a" stroke-width="0.6"/>
<line x1="270.3" y1="292.64" x2="270.3" y2="300.42" stroke="#202020" stroke-width="1"/>
<rect x="269.1" y="295.83" width="2.4" height="1" fill="#8e0000" stroke="#1a1a1a" stroke-width="0.6"/>
<line x1="272" y1="292.45" x2="272" y2="311.3" stroke="#202020" stroke-width="1"/>
<rect x="270.8" y="296.98" width="2.4" height="12.36" fill="#8e0000" stroke="#1a1a1a" stroke-width="0.6"/>
<line x1="273.7" y1="308.22" x2="273.7" y2="314.1" stroke="#202020" stroke-width="1"/>
<rect x="272.5" y="309.82" width="2.4" height="2.23" fill="#8e0000" stroke="#1a1a1a" stroke-width="0.6"/>
<line x1="275.4" y1="304.36" x2="275.4" y2="316.94" stroke="#202020" stroke-width="1"/>
<rect x="274.2" y="311.26" width="2.4" height="4.73" fill="#8e0000" stroke="#1a1a1a" stroke-width="0.6"/>
<line x1="277.1" y1="313.24" x2="277.1" y2="321.55" stroke="#202020" stroke-width="1"/>
<rect x="275.9" y="314.81" width="2.4" height="5.13" fill="#8e0000" stroke="#1a1a1a" stroke-width="0.6"/>
<line x1="278.8" y1="313.71" x2="278.8" y2="325.46" stroke="#383838" stroke-width="1"/>
<rect x="277.6" y="317.12" width="2.4" height="1.44" fill="#939393" stroke="#3a3a3a" stroke-width="0.6"/>
<line x1="280.5" y1="314.34" x2="280.5" y2="329.44" stroke="#202020" stroke-width="1"/>
<rect x="279.3" y="315.79" width="2.4" height="6.11" fill="#8e0000" stroke="#1a1a1a" stroke-width="0.6"/>
<line x1="282.2" y1="314.62" x2="282.2" y2="326.34" stroke="#383838" stroke-width="1"/>
<rect x="281" y="321.7" width="2.4" height="1.69" fill="#939393" stroke="#3a3a3a" stroke-width="0.6"/>
<line x1="283.9" y1="306.89" x2="283.9" y2="330.72" stroke="#383838" stroke-width="1"/>
<rect x="282.7" y="310.71" width="2.4" height="12.35" fill="#939393" stroke="#3a3a3a" stroke-width="0.6"/>
<line x1="285.6" y1="297.19" x2="285.6" y2="314.64" stroke="#383838" stroke-width="1"/>
<rect x="284.4" y="300.98" width="2.4" height="9.28" fill="#939393" stroke="#3a3a3a" stroke-width="0.6"/>
<line x1="287.3" y1="296.34" x2="287.3" y2="301.07" stroke="#383838" stroke-width="1"/>
<rect x="286.1" y="299.14" width="2.4" height="1" fill="#939393" stroke="#3a3a3a" stroke-width="0.6"/>
<line x1="289" y1="292.61" x2="289" y2="301.44" stroke="#383838" stroke-width="1"/>
<rect x="287.8" y="293.57" width="2.4" height="5.03" fill="#939393" stroke="#3a3a3a" stroke-width="0.6"/>
<line x1="290.7" y1="292.29" x2="290.7" y2="300.39" stroke="#202020" stroke-width="1"/>
<rect x="289.5" y="294.75" width="2.4" height="3.81" fill="#8e0000" stroke="#1a1a1a" stroke-width="0.6"/>
<line x1="292.36" y1="292.37" x2="292.36" y2="313.19" stroke="#202020" stroke-width="1"/>
<rect x="291.16" y="298.14" width="2.4" height="7.64" fill="#8e0000" stroke="#1a1a1a" stroke-width="0.6"/>
<line x1="294.01" y1="302.29" x2="294.01" y2="313.68" stroke="#202020" stroke-width="1"/>
<rect x="292.81" y="307.26" width="2.4" height="2.1" fill="#8e0000" stroke="#1a1a1a" stroke-width="0.6"/>
<line x1="295.67" y1="307.18" x2="295.67" y2="329.5" stroke="#202020" stroke-width="1"/>
<rect x="294.47" y="309.59" width="2.4" height="18.24" fill="#8e0000" stroke="#1a1a1a" stroke-width="0.6"/>
<line x1="297.33" y1="318.99" x2="297.33" y2="334.4" stroke="#383838" stroke-width="1"/>
<rect x="296.13" y="323.26" width="2.4" height="3.23" fill="#939393" stroke="#3a3a3a" stroke-width="0.6"/>
<line x1="298.99" y1="317.84" x2="298.99" y2="324.62" stroke="#383838" stroke-width="1"/>
<rect x="297.79" y="318.35" width="2.4" height="5.4" fill="#939393" stroke="#3a3a3a" stroke-width="0.6"/>
<line x1="300.64" y1="312.05" x2="300.64" y2="319.21" stroke="#383838" stroke-width="1"/>
<rect x="299.44" y="314.79" width="2.4" height="3.35" fill="#939393" stroke="#3a3a3a" stroke-width="0.6"/>
<line x1="302.3" y1="311.97" x2="302.3" y2="318.37" stroke="#202020" stroke-width="1"/>
<rect x="301.1" y="313.36" width="2.4" height="3.62" fill="#8e0000" stroke="#1a1a1a" stroke-width="0.6"/>
<line x1="303.96" y1="306.32" x2="303.96" y2="322.61" stroke="#383838" stroke-width="1"/>
<rect x="302.76" y="310.34" width="2.4" height="6.89" fill="#939393" stroke="#3a3a3a" stroke-width="0.6"/>
<line x1="305.61" y1="306.89" x2="305.61" y2="313.74" stroke="#383838" stroke-width="1"/>
<rect x="304.41" y="307.76" width="2.4" height="3.88" fill="#939393" stroke="#3a3a3a" stroke-width="0.6"/>
<line x1="307.27" y1="307.45" x2="307.27" y2="318.19" stroke="#202020" stroke-width="1"/>
<rect x="306.07" y="308.61" width="2.4" height="7.46" fill="#8e0000" stroke="#1a1a1a" stroke-width="0.6"/>
<line x1="308.93" y1="307.38" x2="308.93" y2="322.29" stroke="#383838" stroke-width="1"/>
<rect x="307.73" y="312.6" width="2.4" height="3.02" fill="#939393" stroke="#3a3a3a" stroke-width="0.6"/>
<line x1="310.59" y1="302.44" x2="310.59" y2="314.91" stroke="#383838" stroke-width="1"/>
<rect x="309.39" y="304.27" width="2.4" height="9.54" fill="#939393" stroke="#3a3a3a" stroke-width="0.6"/>
<line x1="312.24" y1="291.81" x2="312.24" y2="312.68" stroke="#383838" stroke-width="1"/>
<rect x="311.04" y="293.69" width="2.4" height="11.42" fill="#939393" stroke="#3a3a3a" stroke-width="0.6"/>
<line x1="313.9" y1="291.8" x2="313.9" y2="297.88" stroke="#383838" stroke-width="1"/>
<rect x="312.7" y="293.9" width="2.4" height="1" fill="#939393" stroke="#3a3a3a" stroke-width="0.6"/>
<line x1="315.56" y1="290.58" x2="315.56" y2="308.54" stroke="#202020" stroke-width="1"/>
<rect x="314.36" y="293.3" width="2.4" height="8.66" fill="#8e0000" stroke="#1a1a1a" stroke-width="0.6"/>
<line x1="317.21" y1="297.67" x2="317.21" y2="309.42" stroke="#202020" stroke-width="1"/>
<rect x="316.01" y="303" width="2.4" height="1.16" fill="#8e0000" stroke="#1a1a1a" stroke-width="0.6"/>
<line x1="318.87" y1="302.38" x2="318.87" y2="311.61" stroke="#202020" stroke-width="1"/>
<rect x="317.67" y="302.98" width="2.4" height="6.26" fill="#8e0000" stroke="#1a1a1a" stroke-width="0.6"/>
<line x1="320.53" y1="305.94" x2="320.53" y2="319.87" stroke="#202020" stroke-width="1"/>
<rect x="319.33" y="310.27" width="2.4" height="4.42" fill="#8e0000" stroke="#1a1a1a" stroke-width="0.6"/>
<line x1="322.19" y1="312.66" x2="322.19" y2="326.5" stroke="#202020" stroke-width="1"/>
<rect x="320.99" y="314.76" width="2.4" height="3.87" fill="#8e0000" stroke="#1a1a1a" stroke-width="0.6"/>
<line x1="323.84" y1="316.09" x2="323.84" y2="330.84" stroke="#202020" stroke-width="1"/>
<rect x="322.64" y="317.18" width="2.4" height="5.94" fill="#8e0000" stroke="#1a1a1a" stroke-width="0.6"/>
<line x1="325.5" y1="304.7" x2="325.5" y2="325.37" stroke="#383838" stroke-width="1"/>
<rect x="324.3" y="309.34" width="2.4" height="13.26" fill="#939393" stroke="#3a3a3a" stroke-width="0.6"/>
<line x1="327.2" y1="286.44" x2="327.2" y2="312.52" stroke="#383838" stroke-width="1"/>
<rect x="326" y="294.34" width="2.4" height="15.58" fill="#939393" stroke="#3a3a3a" stroke-width="0.6"/>
<line x1="328.91" y1="293.1" x2="328.91" y2="302.33" stroke="#202020" stroke-width="1"/>
<rect x="327.71" y="295.41" width="2.4" height="2.38" fill="#8e0000" stroke="#1a1a1a" stroke-width="0.6"/>
<line x1="330.61" y1="295.38" x2="330.61" y2="318.38" stroke="#202020" stroke-width="1"/>
<rect x="329.41" y="298.16" width="2.4" height="19.65" fill="#8e0000" stroke="#1a1a1a" stroke-width="0.6"/>
<line x1="332.32" y1="318.24" x2="332.32" y2="330.72" stroke="#202020" stroke-width="1"/>
<rect x="331.12" y="319.1" width="2.4" height="11.02" fill="#8e0000" stroke="#1a1a1a" stroke-width="0.6"/>
<line x1="334.02" y1="322.61" x2="334.02" y2="338" stroke="#383838" stroke-width="1"/>
<rect x="332.82" y="329.29" width="2.4" height="1.23" fill="#939393" stroke="#3a3a3a" stroke-width="0.6"/>
<line x1="335.73" y1="303.41" x2="335.73" y2="332.91" stroke="#383838" stroke-width="1"/>
<rect x="334.53" y="310.86" width="2.4" height="19.38" fill="#939393" stroke="#3a3a3a" stroke-width="0.6"/>
<line x1="337.43" y1="296.65" x2="337.43" y2="312.78" stroke="#383838" stroke-width="1"/>
<rect x="336.23" y="297.67" width="2.4" height="14.53" fill="#939393" stroke="#3a3a3a" stroke-width="0.6"/>
<line x1="339.14" y1="275.07" x2="339.14" y2="303.04" stroke="#383838" stroke-width="1"/>
<rect x="337.94" y="282.2" width="2.4" height="16.4" fill="#939393" stroke="#3a3a3a" stroke-width="0.6"/>
<line x1="340.84" y1="263.72" x2="340.84" y2="282.55" stroke="#383838" stroke-width="1"/>
<rect x="339.64" y="267.74" width="2.4" height="13.25" fill="#939393" stroke="#3a3a3a" stroke-width="0.6"/>
<line x1="342.55" y1="264.72" x2="342.55" y2="270.95" stroke="#202020" stroke-width="1"/>
<rect x="341.35" y="267.01" width="2.4" height="2.64" fill="#8e0000" stroke="#1a1a1a" stroke-width="0.6"/>
<line x1="344.25" y1="263.57" x2="344.25" y2="276.12" stroke="#202020" stroke-width="1"/>
<rect x="343.05" y="269.66" width="2.4" height="4.93" fill="#8e0000" stroke="#1a1a1a" stroke-width="0.6"/>
<line x1="345.95" y1="250.35" x2="345.95" y2="276.45" stroke="#383838" stroke-width="1"/>
<rect x="344.75" y="252.61" width="2.4" height="22.79" fill="#939393" stroke="#3a3a3a" stroke-width="0.6"/>
<line x1="347.66" y1="240" x2="347.66" y2="253" stroke="#383838" stroke-width="1"/>
<rect x="346.46" y="236" width="2.4" height="14" fill="#939393" stroke="#3a3a3a" stroke-width="0.6"/>
<line x1="349.36" y1="220" x2="349.36" y2="250" stroke="#202020" stroke-width="1"/>
<rect x="348.16" y="235" width="2.4" height="11" fill="#8e0000" stroke="#1a1a1a" stroke-width="0.6"/>
<line x1="351.07" y1="239.78" x2="351.07" y2="248.84" stroke="#383838" stroke-width="1"/>
<rect x="349.87" y="242.36" width="2.4" height="3.63" fill="#939393" stroke="#3a3a3a" stroke-width="0.6"/>
<line x1="352.77" y1="236.01" x2="352.77" y2="249.16" stroke="#202020" stroke-width="1"/>
<rect x="351.57" y="241.5" width="2.4" height="5.57" fill="#8e0000" stroke="#1a1a1a" stroke-width="0.6"/>
<line x1="354.48" y1="240.99" x2="354.48" y2="264.56" stroke="#202020" stroke-width="1"/>
<rect x="353.28" y="247.93" width="2.4" height="11.85" fill="#8e0000" stroke="#1a1a1a" stroke-width="0.6"/>
<line x1="356.18" y1="256.04" x2="356.18" y2="273.27" stroke="#202020" stroke-width="1"/>
<rect x="354.98" y="259.47" width="2.4" height="10.68" fill="#8e0000" stroke="#1a1a1a" stroke-width="0.6"/>
<line x1="357.89" y1="260.43" x2="357.89" y2="272.15" stroke="#383838" stroke-width="1"/>
<rect x="356.69" y="265.93" width="2.4" height="3.51" fill="#939393" stroke="#3a3a3a" stroke-width="0.6"/>
<line x1="359.59" y1="263.43" x2="359.59" y2="283.84" stroke="#202020" stroke-width="1"/>
<rect x="358.39" y="265.81" width="2.4" height="11.79" fill="#8e0000" stroke="#1a1a1a" stroke-width="0.6"/>
<line x1="361.3" y1="274.48" x2="361.3" y2="299.88" stroke="#202020" stroke-width="1"/>
<rect x="360.1" y="277.09" width="2.4" height="16.09" fill="#8e0000" stroke="#1a1a1a" stroke-width="0.6"/>
<line x1="363" y1="286" x2="363" y2="306" stroke="#202020" stroke-width="1"/>
<rect x="361.8" y="288" width="2.4" height="16" fill="#8e0000" stroke="#1a1a1a" stroke-width="0.6"/>
<line x1="364.67" y1="292" x2="364.67" y2="312" stroke="#383838" stroke-width="1"/>
<rect x="363.47" y="298" width="2.4" height="6" fill="#939393" stroke="#3a3a3a" stroke-width="0.6"/>
<line x1="366.34" y1="294" x2="366.34" y2="318" stroke="#202020" stroke-width="1"/>
<rect x="365.14" y="298" width="2.4" height="14" fill="#8e0000" stroke="#1a1a1a" stroke-width="0.6"/>
<line x1="368.01" y1="296" x2="368.01" y2="320" stroke="#383838" stroke-width="1"/>
<rect x="366.81" y="300" width="2.4" height="12" fill="#939393" stroke="#3a3a3a" stroke-width="0.6"/>
<line x1="369.68" y1="298" x2="369.68" y2="318" stroke="#202020" stroke-width="1"/>
<rect x="368.48" y="300" width="2.4" height="14" fill="#8e0000" stroke="#1a1a1a" stroke-width="0.6"/>
<line x1="371.35" y1="300" x2="371.35" y2="320" stroke="#202020" stroke-width="1"/>
<rect x="370.15" y="303" width="2.4" height="15" fill="#8e0000" stroke="#1a1a1a" stroke-width="0.6"/>
<line x1="373.02" y1="314" x2="373.02" y2="331" stroke="#202020" stroke-width="1"/>
<rect x="371.82" y="318" width="2.4" height="10" fill="#8e0000" stroke="#1a1a1a" stroke-width="0.6"/>
<line x1="374.69" y1="322" x2="374.69" y2="347" stroke="#202020" stroke-width="1"/>
<rect x="373.49" y="326" width="2.4" height="18" fill="#8e0000" stroke="#1a1a1a" stroke-width="0.6"/>
<line x1="376.36" y1="330" x2="376.36" y2="356" stroke="#383838" stroke-width="1"/>
<rect x="375.16" y="336" width="2.4" height="8" fill="#939393" stroke="#3a3a3a" stroke-width="0.6"/>
<line x1="378.03" y1="329" x2="378.03" y2="348" stroke="#202020" stroke-width="1"/>
<rect x="376.83" y="336" width="2.4" height="9" fill="#8e0000" stroke="#1a1a1a" stroke-width="0.6"/>
<line x1="379.7" y1="330" x2="379.7" y2="378.2" stroke="#383838" stroke-width="1"/>
<rect x="378.5" y="332" width="2.4" height="13" fill="#939393" stroke="#3a3a3a" stroke-width="0.6"/>
<line x1="381.37" y1="318" x2="381.37" y2="336" stroke="#383838" stroke-width="1"/>
<rect x="380.17" y="322" width="2.4" height="10" fill="#939393" stroke="#3a3a3a" stroke-width="0.6"/>
<line x1="383.03" y1="313" x2="383.03" y2="332" stroke="#383838" stroke-width="1"/>
<rect x="381.83" y="316" width="2.4" height="6" fill="#939393" stroke="#3a3a3a" stroke-width="0.6"/>
<line x1="384.7" y1="313" x2="384.7" y2="330" stroke="#202020" stroke-width="1"/>
<rect x="383.5" y="316" width="2.4" height="4" fill="#8e0000" stroke="#1a1a1a" stroke-width="0.6"/>
<line x1="386.37" y1="318" x2="386.37" y2="354" stroke="#202020" stroke-width="1"/>
<rect x="385.17" y="320" width="2.4" height="27" fill="#8e0000" stroke="#1a1a1a" stroke-width="0.6"/>
<line x1="388.04" y1="328" x2="388.04" y2="349" stroke="#202020" stroke-width="1"/>
<rect x="386.84" y="331" width="2.4" height="16" fill="#8e0000" stroke="#1a1a1a" stroke-width="0.6"/>
<line x1="389.71" y1="310" x2="389.71" y2="348" stroke="#383838" stroke-width="1"/>
<rect x="388.51" y="314" width="2.4" height="32" fill="#939393" stroke="#3a3a3a" stroke-width="0.6"/>
<line x1="391.38" y1="298" x2="391.38" y2="318" stroke="#383838" stroke-width="1"/>
<rect x="390.18" y="304" width="2.4" height="10" fill="#939393" stroke="#3a3a3a" stroke-width="0.6"/>
<line x1="393.05" y1="296" x2="393.05" y2="312" stroke="#383838" stroke-width="1"/>
<rect x="391.85" y="300" width="2.4" height="4" fill="#939393" stroke="#3a3a3a" stroke-width="0.6"/>
<line x1="394.72" y1="292" x2="394.72" y2="306" stroke="#383838" stroke-width="1"/>
<rect x="393.52" y="296" width="2.4" height="4" fill="#939393" stroke="#3a3a3a" stroke-width="0.6"/>
<line x1="396.39" y1="292" x2="396.39" y2="302" stroke="#202020" stroke-width="1"/>
<rect x="395.19" y="296" width="2.4" height="2" fill="#8e0000" stroke="#1a1a1a" stroke-width="0.6"/>
<line x1="398.06" y1="290" x2="398.06" y2="300" stroke="#383838" stroke-width="1"/>
<rect x="396.86" y="296" width="2.4" height="2" fill="#939393" stroke="#3a3a3a" stroke-width="0.6"/>
<line x1="399.73" y1="230" x2="399.73" y2="298" stroke="#383838" stroke-width="1"/>
<rect x="398.53" y="231" width="2.4" height="65" fill="#939393" stroke="#3a3a3a" stroke-width="0.6"/>
<line x1="401.4" y1="188" x2="401.4" y2="231" stroke="#383838" stroke-width="1"/>
<rect x="400.2" y="190" width="2.4" height="39" fill="#939393" stroke="#3a3a3a" stroke-width="0.6"/>
<line x1="403.09" y1="186" x2="403.09" y2="200" stroke="#383838" stroke-width="1"/>
<rect x="401.89" y="176" width="2.4" height="15" fill="#939393" stroke="#3a3a3a" stroke-width="0.6"/>
<line x1="404.78" y1="154" x2="404.78" y2="190" stroke="#202020" stroke-width="1"/>
<rect x="403.58" y="175" width="2.4" height="14" fill="#8e0000" stroke="#1a1a1a" stroke-width="0.6"/>
<line x1="406.47" y1="160" x2="406.47" y2="194" stroke="#383838" stroke-width="1"/>
<rect x="405.27" y="170" width="2.4" height="19" fill="#939393" stroke="#3a3a3a" stroke-width="0.6"/>
<line x1="408.16" y1="158" x2="408.16" y2="192" stroke="#202020" stroke-width="1"/>
<rect x="406.96" y="170" width="2.4" height="16" fill="#8e0000" stroke="#1a1a1a" stroke-width="0.6"/>
<line x1="409.85" y1="150" x2="409.85" y2="190" stroke="#383838" stroke-width="1"/>
<rect x="408.65" y="160" width="2.4" height="26" fill="#939393" stroke="#3a3a3a" stroke-width="0.6"/>
<line x1="411.54" y1="145" x2="411.54" y2="176" stroke="#383838" stroke-width="1"/>
<rect x="410.34" y="150" width="2.4" height="10" fill="#939393" stroke="#3a3a3a" stroke-width="0.6"/>
<line x1="413.23" y1="140" x2="413.23" y2="166" stroke="#202020" stroke-width="1"/>
<rect x="412.03" y="151" width="2.4" height="9" fill="#8e0000" stroke="#1a1a1a" stroke-width="0.6"/>
<line x1="414.92" y1="136" x2="414.92" y2="163" stroke="#383838" stroke-width="1"/>
<rect x="413.72" y="140" width="2.4" height="20" fill="#939393" stroke="#3a3a3a" stroke-width="0.6"/>
<line x1="416.61" y1="122" x2="416.61" y2="141" stroke="#383838" stroke-width="1"/>
<rect x="415.41" y="122" width="2.4" height="17" fill="#939393" stroke="#3a3a3a" stroke-width="0.6"/>
<line x1="418.3" y1="122" x2="418.3" y2="128" stroke="#383838" stroke-width="1"/>
<rect x="417.1" y="106" width="2.4" height="18" fill="#939393" stroke="#3a3a3a" stroke-width="0.6"/>
<line x1="419.99" y1="122" x2="419.99" y2="121" stroke="#202020" stroke-width="1"/>
<rect x="418.79" y="107" width="2.4" height="9" fill="#8e0000" stroke="#1a1a1a" stroke-width="0.6"/>
<line x1="421.68" y1="50" x2="421.68" y2="120" stroke="#383838" stroke-width="1"/>
<rect x="420.48" y="74" width="2.4" height="44" fill="#939393" stroke="#3a3a3a" stroke-width="0.6"/>
<line x1="423.37" y1="72" x2="423.37" y2="125" stroke="#202020" stroke-width="1"/>
<rect x="422.17" y="74" width="2.4" height="22" fill="#8e0000" stroke="#1a1a1a" stroke-width="0.6"/>
<line x1="425.06" y1="88.31" x2="425.06" y2="97.26" stroke="#383838" stroke-width="1"/>
<rect x="423.86" y="94.44" width="2.4" height="1" fill="#939393" stroke="#3a3a3a" stroke-width="0.6"/>
<line x1="426.75" y1="85.69" x2="426.75" y2="95.95" stroke="#383838" stroke-width="1"/>
<rect x="425.55" y="88.11" width="2.4" height="6.25" fill="#939393" stroke="#3a3a3a" stroke-width="0.6"/>
<line x1="428.44" y1="82.99" x2="428.44" y2="93.29" stroke="#383838" stroke-width="1"/>
<rect x="427.24" y="87.46" width="2.4" height="1" fill="#939393" stroke="#3a3a3a" stroke-width="0.6"/>
<line x1="430.13" y1="83.3" x2="430.13" y2="93.73" stroke="#383838" stroke-width="1"/>
<rect x="428.93" y="86.24" width="2.4" height="1" fill="#939393" stroke="#3a3a3a" stroke-width="0.6"/>
<line x1="431.82" y1="83.72" x2="431.82" y2="103.59" stroke="#202020" stroke-width="1"/>
<rect x="430.62" y="85.69" width="2.4" height="10.98" fill="#8e0000" stroke="#1a1a1a" stroke-width="0.6"/>
<line x1="433.51" y1="68.37" x2="433.51" y2="98.59" stroke="#383838" stroke-width="1"/>
<rect x="432.31" y="74.1" width="2.4" height="23.24" fill="#939393" stroke="#3a3a3a" stroke-width="0.6"/>
<line x1="435.2" y1="67.12" x2="435.2" y2="87.78" stroke="#202020" stroke-width="1"/>
<rect x="434" y="73.17" width="2.4" height="7.67" fill="#8e0000" stroke="#1a1a1a" stroke-width="0.6"/>
<line x1="436.88" y1="75.04" x2="436.88" y2="90.63" stroke="#202020" stroke-width="1"/>
<rect x="435.68" y="81.17" width="2.4" height="3.47" fill="#8e0000" stroke="#1a1a1a" stroke-width="0.6"/>
<line x1="438.56" y1="66.18" x2="438.56" y2="87.29" stroke="#383838" stroke-width="1"/>
<rect x="437.36" y="71.47" width="2.4" height="12.32" fill="#939393" stroke="#3a3a3a" stroke-width="0.6"/>
<line x1="440.23" y1="40.29" x2="440.23" y2="74.92" stroke="#383838" stroke-width="1"/>
<rect x="439.03" y="47.86" width="2.4" height="22.22" fill="#939393" stroke="#3a3a3a" stroke-width="0.6"/>
<line x1="441.91" y1="42.89" x2="441.91" y2="50.27" stroke="#383838" stroke-width="1"/>
<rect x="440.71" y="47.18" width="2.4" height="1.54" fill="#939393" stroke="#3a3a3a" stroke-width="0.6"/>
<line x1="443.59" y1="37.3" x2="443.59" y2="60.68" stroke="#202020" stroke-width="1"/>
<rect x="442.39" y="46.97" width="2.4" height="11.79" fill="#8e0000" stroke="#1a1a1a" stroke-width="0.6"/>
<line x1="445.27" y1="51.74" x2="445.27" y2="86.84" stroke="#202020" stroke-width="1"/>
<rect x="444.07" y="57.62" width="2.4" height="23.99" fill="#8e0000" stroke="#1a1a1a" stroke-width="0.6"/>
<line x1="446.95" y1="73.58" x2="446.95" y2="95.64" stroke="#202020" stroke-width="1"/>
<rect x="445.75" y="81.27" width="2.4" height="5.47" fill="#8e0000" stroke="#1a1a1a" stroke-width="0.6"/>
<line x1="448.63" y1="80.01" x2="448.63" y2="86.08" stroke="#383838" stroke-width="1"/>
<rect x="447.43" y="84.07" width="2.4" height="1.47" fill="#939393" stroke="#3a3a3a" stroke-width="0.6"/>
<line x1="450.3" y1="75.39" x2="450.3" y2="87.29" stroke="#383838" stroke-width="1"/>
<rect x="449.1" y="78.3" width="2.4" height="6.32" fill="#939393" stroke="#3a3a3a" stroke-width="0.6"/>
<line x1="451.98" y1="72.65" x2="451.98" y2="106.05" stroke="#202020" stroke-width="1"/>
<rect x="450.78" y="76.86" width="2.4" height="25.25" fill="#8e0000" stroke="#1a1a1a" stroke-width="0.6"/>
<line x1="453.66" y1="95.66" x2="453.66" y2="137" stroke="#202020" stroke-width="1"/>
<rect x="452.46" y="102.93" width="2.4" height="8.26" fill="#8e0000" stroke="#1a1a1a" stroke-width="0.6"/>
<line x1="455.34" y1="108.99" x2="455.34" y2="119.66" stroke="#202020" stroke-width="1"/>
<rect x="454.14" y="111.82" width="2.4" height="4.93" fill="#8e0000" stroke="#1a1a1a" stroke-width="0.6"/>
<line x1="457.02" y1="112.17" x2="457.02" y2="118.69" stroke="#383838" stroke-width="1"/>
<rect x="455.82" y="114.3" width="2.4" height="1" fill="#939393" stroke="#3a3a3a" stroke-width="0.6"/>
<line x1="458.7" y1="100.16" x2="458.7" y2="115.64" stroke="#383838" stroke-width="1"/>
<rect x="457.5" y="102.81" width="2.4" height="12.17" fill="#939393" stroke="#3a3a3a" stroke-width="0.6"/>
<line x1="460.37" y1="92.1" x2="460.37" y2="105.53" stroke="#383838" stroke-width="1"/>
<rect x="459.17" y="94.29" width="2.4" height="8.75" fill="#939393" stroke="#3a3a3a" stroke-width="0.6"/>
<line x1="462.05" y1="89.64" x2="462.05" y2="98.53" stroke="#202020" stroke-width="1"/>
<rect x="460.85" y="94.73" width="2.4" height="1.34" fill="#8e0000" stroke="#1a1a1a" stroke-width="0.6"/>
<line x1="463.73" y1="92.46" x2="463.73" y2="101.82" stroke="#202020" stroke-width="1"/>
<rect x="462.53" y="96.92" width="2.4" height="1.97" fill="#8e0000" stroke="#1a1a1a" stroke-width="0.6"/>
<line x1="465.41" y1="97.86" x2="465.41" y2="111.41" stroke="#202020" stroke-width="1"/>
<rect x="464.21" y="99.87" width="2.4" height="1.22" fill="#8e0000" stroke="#1a1a1a" stroke-width="0.6"/>
<line x1="467.09" y1="97.79" x2="467.09" y2="106.59" stroke="#202020" stroke-width="1"/>
<rect x="465.89" y="100.51" width="2.4" height="3.87" fill="#8e0000" stroke="#1a1a1a" stroke-width="0.6"/>
<line x1="468.77" y1="101.15" x2="468.77" y2="125.14" stroke="#202020" stroke-width="1"/>
<rect x="467.57" y="105.57" width="2.4" height="18.42" fill="#8e0000" stroke="#1a1a1a" stroke-width="0.6"/>
<line x1="470.44" y1="123" x2="470.44" y2="133" stroke="#202020" stroke-width="1"/>
<rect x="469.24" y="125" width="2.4" height="7" fill="#8e0000" stroke="#1a1a1a" stroke-width="0.6"/>
<line x1="472.12" y1="130" x2="472.12" y2="142" stroke="#202020" stroke-width="1"/>
<rect x="470.92" y="132" width="2.4" height="8" fill="#8e0000" stroke="#1a1a1a" stroke-width="0.6"/>
<line x1="473.8" y1="129" x2="473.8" y2="142" stroke="#383838" stroke-width="1"/>
<rect x="472.6" y="131" width="2.4" height="10" fill="#939393" stroke="#3a3a3a" stroke-width="0.6"/>
<line x1="475.48" y1="131" x2="475.48" y2="147" stroke="#202020" stroke-width="1"/>
<rect x="474.28" y="133" width="2.4" height="13" fill="#8e0000" stroke="#1a1a1a" stroke-width="0.6"/>
<line x1="477.16" y1="145" x2="477.16" y2="204" stroke="#202020" stroke-width="1"/>
<rect x="475.96" y="148" width="2.4" height="52" fill="#8e0000" stroke="#1a1a1a" stroke-width="0.6"/>
<line x1="478.84" y1="198" x2="478.84" y2="226" stroke="#202020" stroke-width="1"/>
<rect x="477.64" y="200" width="2.4" height="24" fill="#8e0000" stroke="#1a1a1a" stroke-width="0.6"/>
<line x1="480.52" y1="207" x2="480.52" y2="227" stroke="#383838" stroke-width="1"/>
<rect x="479.32" y="210" width="2.4" height="14" fill="#939393" stroke="#3a3a3a" stroke-width="0.6"/>
<line x1="482.2" y1="208" x2="482.2" y2="226" stroke="#202020" stroke-width="1"/>
<rect x="481" y="211" width="2.4" height="12" fill="#8e0000" stroke="#1a1a1a" stroke-width="0.6"/>
<line x1="483.88" y1="221" x2="483.88" y2="240" stroke="#202020" stroke-width="1"/>
<rect x="482.68" y="223" width="2.4" height="15" fill="#8e0000" stroke="#1a1a1a" stroke-width="0.6"/>
<line x1="485.56" y1="236" x2="485.56" y2="244" stroke="#202020" stroke-width="1"/>
<rect x="484.36" y="238" width="2.4" height="4.2" fill="#8e0000" stroke="#1a1a1a" stroke-width="0.6"/>
<path d="M1.8,403.5 C3,400.83 6.65,392.38 9,387.5 C11.35,382.62 13.57,379.07 15.9,374.2 C18.23,369.33 20.82,362.83 23,358.3 C25.18,353.77 26.83,351.78 29,347 C31.17,342.22 33.63,334.27 36,329.6 C38.37,324.93 40.23,323.3 43.2,319 C46.17,314.7 50.7,307.67 53.8,303.8 C56.9,299.93 59.15,297.9 61.8,295.8 C64.45,293.7 67.72,292.08 69.7,291.2 C71.68,290.32 72.27,290.32 73.7,290.5 C75.13,290.68 76.75,292.4 78.3,292.3 C79.85,292.2 81.55,290.53 83,289.9 C84.45,289.27 84.8,289.62 87,288.5 C89.2,287.38 92.37,285.18 96.2,283.2 C100.03,281.22 105.73,279.57 110,276.6 C114.27,273.63 118.48,268.03 121.8,265.4 C125.12,262.77 126.78,262.35 129.9,260.8 C133.02,259.25 137.42,257.87 140.5,256.1 C143.58,254.33 145.1,251.73 148.4,250.2 C151.7,248.67 156.55,248.23 160.3,246.9 C164.05,245.57 167.15,243.75 170.9,242.2 C174.65,240.65 179.28,238.47 182.8,237.6 C186.32,236.73 188.92,236.73 192,237 C195.08,237.27 197.55,237.95 201.3,239.2 C205.05,240.45 210.1,243.08 214.5,244.5 C218.9,245.92 223.73,246.68 227.7,247.7 C231.67,248.72 234.48,249.55 238.3,250.6 C242.12,251.65 246.35,252.92 250.6,254 C254.85,255.08 259.83,255.7 263.8,257.1 C267.77,258.5 270.42,260.2 274.4,262.4 C278.38,264.6 283.28,267.87 287.7,270.3 C292.12,272.73 296.48,275.13 300.9,277 C305.32,278.87 309.78,280.23 314.2,281.5 C318.62,282.77 324.15,283.75 327.4,284.6 C330.65,285.45 331.67,286.27 333.7,286.6 C335.73,286.93 337.55,286.93 339.6,286.6 C341.65,286.27 343.35,285.4 346,284.6 C348.65,283.8 352.58,282.1 355.5,281.8 C358.42,281.5 360.92,282.18 363.5,282.8 C366.08,283.42 368.35,284.33 371,285.5 C373.65,286.67 376.52,288.58 379.4,289.8 C382.28,291.02 385.62,291.83 388.3,292.8 C390.98,293.77 393.78,295.03 395.5,295.6 C397.22,296.17 397.35,296.8 398.6,296.2 C399.85,295.6 401.57,293.87 403,292 C404.43,290.13 405.78,287.5 407.2,285 C408.62,282.5 410.05,279.75 411.5,277 C412.95,274.25 414.32,271.33 415.9,268.5 C417.48,265.67 418.62,264.13 421,260 C423.38,255.87 427.28,249.12 430.2,243.7 C433.12,238.28 435.73,232.9 438.5,227.5 C441.27,222.1 444.1,215.55 446.8,211.3 C449.5,207.05 452.2,204.82 454.7,202 C457.2,199.18 459.92,196.48 461.8,194.4 C463.68,192.32 464.55,190.93 466,189.5 C467.45,188.07 468.8,186.88 470.5,185.8 C472.2,184.72 474.53,183.22 476.2,183 C477.87,182.78 479.07,183.8 480.5,184.5 C481.93,185.2 483.88,186.62 484.8,187.2 C485.72,187.78 485.8,187.87 486,188" fill="none" stroke="#4040f4" stroke-width="1.15"/>
<line x1="3" y1="137.3" x2="555" y2="137.3" stroke="#ec4444" stroke-width="1.3"/>
<line x1="30.6" y1="122.4" x2="525.3" y2="272.8" stroke="#ff0a0a" stroke-width="2"/>
<g stroke="#3434f4" stroke-width="1.15">
<line x1="380.2" y1="37.83" x2="555" y2="37.83"/>
<line x1="380.2" y1="163.52" x2="555" y2="163.52"/>
<line x1="380.2" y1="203.4" x2="555" y2="203.4"/>
<line x1="380.2" y1="243.81" x2="555" y2="243.81"/>
<line x1="380.2" y1="378.35" x2="555" y2="378.35"/>
</g>
<text transform="scale(0.86,1)" x="15.12" y="135.7" textLength="15.70" lengthAdjust="spacing" font-size="9.2" fill="#f03a3a" stroke="#f03a3a" stroke-width="0.2" >145</text>
<text transform="scale(0.86,1)" x="564.88" y="262.5" textLength="38.60" lengthAdjust="spacing" font-size="9.2" fill="#f22828" stroke="#f22828" stroke-width="0.2" >139,1645</text>
<!-- arrows -->
<g stroke="#303030" stroke-width="1" fill="#151515">
<line x1="501.3" y1="181" x2="507.8" y2="143"/>
<path d="M508.4,140.3 L510.8,149.2 L507.6,147 L504.3,148.2 Z"/>
<line x1="489.9" y1="233.7" x2="495.4" y2="201"/>
<path d="M495.8,198 L498.2,206.5 L495.2,204.5 L492,205.5 Z"/>
<line x1="498.8" y1="270.9" x2="518" y2="325"/>
<path d="M518.6,328.5 L513.3,321.6 L516.7,322.6 L519.2,319.6 Z"/>
<line x1="484.9" y1="247.7" x2="488.8" y2="253"/>
<path d="M490.3,256 L484.3,250.3 L487.6,251.2 L490.6,249.8 Z"/>
</g>
<path d="M474,241 A12,7 0 0 0 498,241" fill="rgba(200,200,245,0.6)" stroke="#303030" stroke-width="1"/>
<!-- frame -->
<rect x="0" y="0" width="604" height="1.7" fill="#959595"/>
<rect x="0" y="0" width="1.55" height="453" fill="#9c9c9c"/>
<rect x="1.5" y="438" width="554" height="1.8" fill="#a8a8a8"/>
<rect x="555" y="1.5" width="1" height="438.3" fill="#a0a0a0"/>
<line x1="556.5" y1="428.01" x2="559.6" y2="428.01" stroke="#9a9a9a" stroke-width="1"/>
<text transform="scale(0.8,1)" x="701.75" y="431.51" textLength="42.88" lengthAdjust="spacing" font-size="9.9" fill="#20202a" stroke="#20202a" stroke-width="0.22" >132,0000</text>
<line x1="556.5" y1="404.71" x2="559.6" y2="404.71" stroke="#9a9a9a" stroke-width="1"/>
<text transform="scale(0.8,1)" x="701.75" y="408.21" textLength="42.88" lengthAdjust="spacing" font-size="9.9" fill="#20202a" stroke="#20202a" stroke-width="0.22" >133,0000</text>
<line x1="556.5" y1="381.58" x2="559.6" y2="381.58" stroke="#9a9a9a" stroke-width="1"/>
<text transform="scale(0.8,1)" x="701.75" y="385.08" textLength="42.88" lengthAdjust="spacing" font-size="9.9" fill="#20202a" stroke="#20202a" stroke-width="0.22" >134,0000</text>
<line x1="556.5" y1="358.62" x2="559.6" y2="358.62" stroke="#9a9a9a" stroke-width="1"/>
<text transform="scale(0.8,1)" x="701.75" y="362.12" textLength="42.88" lengthAdjust="spacing" font-size="9.9" fill="#20202a" stroke="#20202a" stroke-width="0.22" >135,0000</text>
<line x1="556.5" y1="335.83" x2="559.6" y2="335.83" stroke="#9a9a9a" stroke-width="1"/>
<text transform="scale(0.8,1)" x="701.75" y="339.33" textLength="42.88" lengthAdjust="spacing" font-size="9.9" fill="#20202a" stroke="#20202a" stroke-width="0.22" >136,0000</text>
<line x1="556.5" y1="313.21" x2="559.6" y2="313.21" stroke="#9a9a9a" stroke-width="1"/>
<text transform="scale(0.8,1)" x="701.75" y="316.71" textLength="42.88" lengthAdjust="spacing" font-size="9.9" fill="#20202a" stroke="#20202a" stroke-width="0.22" >137,0000</text>
<line x1="556.5" y1="290.76" x2="559.6" y2="290.76" stroke="#9a9a9a" stroke-width="1"/>
<text transform="scale(0.8,1)" x="701.75" y="294.26" textLength="42.88" lengthAdjust="spacing" font-size="9.9" fill="#20202a" stroke="#20202a" stroke-width="0.22" >138,0000</text>
<line x1="556.5" y1="268.46" x2="559.6" y2="268.46" stroke="#9a9a9a" stroke-width="1"/>
<text transform="scale(0.8,1)" x="701.75" y="271.96" textLength="42.88" lengthAdjust="spacing" font-size="9.9" fill="#20202a" stroke="#20202a" stroke-width="0.22" >139,0000</text>
<line x1="556.5" y1="246.33" x2="559.6" y2="246.33" stroke="#9a9a9a" stroke-width="1"/>
<text transform="scale(0.8,1)" x="701.75" y="249.83" textLength="42.88" lengthAdjust="spacing" font-size="9.9" fill="#20202a" stroke="#20202a" stroke-width="0.22" >140,0000</text>
<line x1="556.5" y1="224.35" x2="559.6" y2="224.35" stroke="#9a9a9a" stroke-width="1"/>
<text transform="scale(0.8,1)" x="701.75" y="227.85" textLength="42.88" lengthAdjust="spacing" font-size="9.9" fill="#20202a" stroke="#20202a" stroke-width="0.22" >141,0000</text>
<line x1="556.5" y1="202.53" x2="559.6" y2="202.53" stroke="#9a9a9a" stroke-width="1"/>
<text transform="scale(0.8,1)" x="701.75" y="206.03" textLength="42.88" lengthAdjust="spacing" font-size="9.9" fill="#20202a" stroke="#20202a" stroke-width="0.22" >142,0000</text>
<line x1="556.5" y1="180.86" x2="559.6" y2="180.86" stroke="#9a9a9a" stroke-width="1"/>
<text transform="scale(0.8,1)" x="701.75" y="184.36" textLength="42.88" lengthAdjust="spacing" font-size="9.9" fill="#20202a" stroke="#20202a" stroke-width="0.22" >143,0000</text>
<line x1="556.5" y1="159.35" x2="559.6" y2="159.35" stroke="#9a9a9a" stroke-width="1"/>
<text transform="scale(0.8,1)" x="701.75" y="162.85" textLength="42.88" lengthAdjust="spacing" font-size="9.9" fill="#20202a" stroke="#20202a" stroke-width="0.22" >144,0000</text>
<line x1="556.5" y1="137.98" x2="559.6" y2="137.98" stroke="#9a9a9a" stroke-width="1"/>
<text transform="scale(0.8,1)" x="701.75" y="141.48" textLength="42.88" lengthAdjust="spacing" font-size="9.9" fill="#20202a" stroke="#20202a" stroke-width="0.22" >145,0000</text>
<line x1="556.5" y1="116.76" x2="559.6" y2="116.76" stroke="#9a9a9a" stroke-width="1"/>
<text transform="scale(0.8,1)" x="701.75" y="120.26" textLength="42.88" lengthAdjust="spacing" font-size="9.9" fill="#20202a" stroke="#20202a" stroke-width="0.22" >146,0000</text>
<line x1="556.5" y1="95.68" x2="559.6" y2="95.68" stroke="#9a9a9a" stroke-width="1"/>
<text transform="scale(0.8,1)" x="701.75" y="99.18" textLength="42.88" lengthAdjust="spacing" font-size="9.9" fill="#20202a" stroke="#20202a" stroke-width="0.22" >147,0000</text>
<line x1="556.5" y1="74.75" x2="559.6" y2="74.75" stroke="#9a9a9a" stroke-width="1"/>
<text transform="scale(0.8,1)" x="701.75" y="78.25" textLength="42.88" lengthAdjust="spacing" font-size="9.9" fill="#20202a" stroke="#20202a" stroke-width="0.22" >148,0000</text>
<line x1="556.5" y1="53.95" x2="559.6" y2="53.95" stroke="#9a9a9a" stroke-width="1"/>
<text transform="scale(0.8,1)" x="701.75" y="57.45" textLength="42.88" lengthAdjust="spacing" font-size="9.9" fill="#20202a" stroke="#20202a" stroke-width="0.22" >149,0000</text>
<line x1="556.5" y1="33.3" x2="559.6" y2="33.3" stroke="#9a9a9a" stroke-width="1"/>
<text transform="scale(0.8,1)" x="701.75" y="36.8" textLength="42.88" lengthAdjust="spacing" font-size="9.9" fill="#20202a" stroke="#20202a" stroke-width="0.22" >150,0000</text>
<text transform="scale(0.9,1)" x="619.33" y="10.8" textLength="5.56" lengthAdjust="spacing" font-size="10" fill="#20202a" stroke="#20202a" stroke-width="0.2" >¥</text>
<line x1="36" y1="441" x2="36" y2="443.6" stroke="#404040" stroke-width="1"/>
<text transform="scale(0.88,1)" x="41.82" y="450.8" font-size="9.4" fill="#20202a" stroke="#20202a" stroke-width="0.2">2014</text>
<line x1="74.5" y1="441" x2="74.5" y2="443.6" stroke="#404040" stroke-width="1"/>
<text transform="scale(0.88,1)" x="85.57" y="450.8" font-size="9.4" fill="#20202a" stroke="#20202a" stroke-width="0.2">Feb</text>
<line x1="107" y1="441" x2="107" y2="443.6" stroke="#404040" stroke-width="1"/>
<text transform="scale(0.88,1)" x="122.5" y="450.8" font-size="9.4" fill="#20202a" stroke="#20202a" stroke-width="0.2">Mrz</text>
<line x1="142.6" y1="441" x2="142.6" y2="443.6" stroke="#404040" stroke-width="1"/>
<text transform="scale(0.88,1)" x="162.95" y="450.8" font-size="9.4" fill="#20202a" stroke="#20202a" stroke-width="0.2">Apr</text>
<line x1="179.7" y1="441" x2="179.7" y2="443.6" stroke="#404040" stroke-width="1"/>
<text transform="scale(0.88,1)" x="205.11" y="450.8" font-size="9.4" fill="#20202a" stroke="#20202a" stroke-width="0.2">Mai</text>
<line x1="216.8" y1="441" x2="216.8" y2="443.6" stroke="#404040" stroke-width="1"/>
<text transform="scale(0.88,1)" x="247.27" y="450.8" font-size="9.4" fill="#20202a" stroke="#20202a" stroke-width="0.2">Jun</text>
<line x1="251.6" y1="441" x2="251.6" y2="443.6" stroke="#404040" stroke-width="1"/>
<text transform="scale(0.88,1)" x="286.82" y="450.8" font-size="9.4" fill="#20202a" stroke="#20202a" stroke-width="0.2">Jul</text>
<line x1="290.7" y1="441" x2="290.7" y2="443.6" stroke="#404040" stroke-width="1"/>
<text transform="scale(0.88,1)" x="331.25" y="450.8" font-size="9.4" fill="#20202a" stroke="#20202a" stroke-width="0.2">Aug</text>
<line x1="325.5" y1="441" x2="325.5" y2="443.6" stroke="#404040" stroke-width="1"/>
<text transform="scale(0.88,1)" x="370.8" y="450.8" font-size="9.4" fill="#20202a" stroke="#20202a" stroke-width="0.2">Sep</text>
<line x1="363" y1="441" x2="363" y2="443.6" stroke="#404040" stroke-width="1"/>
<text transform="scale(0.88,1)" x="413.41" y="450.8" font-size="9.4" fill="#20202a" stroke="#20202a" stroke-width="0.2">Okt</text>
<line x1="401.4" y1="441" x2="401.4" y2="443.6" stroke="#404040" stroke-width="1"/>
<text transform="scale(0.88,1)" x="457.05" y="450.8" font-size="9.4" fill="#20202a" stroke="#20202a" stroke-width="0.2">Nov</text>
<line x1="435.2" y1="441" x2="435.2" y2="443.6" stroke="#404040" stroke-width="1"/>
<text transform="scale(0.88,1)" x="495.45" y="450.8" font-size="9.4" fill="#20202a" stroke="#20202a" stroke-width="0.2">Dez</text>
<line x1="473.8" y1="441" x2="473.8" y2="443.6" stroke="#404040" stroke-width="1"/>
<text transform="scale(0.88,1)" x="539.32" y="450.8" font-size="9.4" fill="#20202a" stroke="#20202a" stroke-width="0.2">2015</text>
<line x1="518.6" y1="441" x2="518.6" y2="443.6" stroke="#404040" stroke-width="1"/>
<text transform="scale(0.88,1)" x="590.23" y="450.8" font-size="9.4" fill="#20202a" stroke="#20202a" stroke-width="0.2">Feb</text>
<text transform="scale(0.79,1)" x="17.34" y="11.5" textLength="106.46" lengthAdjust="spacing" font-size="9.0" fill="#262630" stroke="#262630" stroke-width="0.25" >EUR/JPY Spot [EURJPY</text>
<text transform="scale(0.79,1)" x="125.95" y="11.5" textLength="16.58" lengthAdjust="spacing" font-size="9.0" fill="#262630" stroke="#262630" stroke-width="0.25" >FXD</text>
<text transform="scale(0.79,1)" x="150.38" y="11.5" textLength="33.16" lengthAdjust="spacing" font-size="9.0" fill="#262630" stroke="#262630" stroke-width="0.25" >Täglich]</text>
<text transform="scale(0.79,1)" x="189.37" y="11.5" textLength="52.41" lengthAdjust="spacing" font-size="9.0" fill="#262630" stroke="#262630" stroke-width="0.25" >12.01.2015</text>
<text transform="scale(0.79,1)" x="244.94" y="11.5" textLength="3.92" lengthAdjust="spacing" font-size="9.0" fill="#262630" stroke="#262630" stroke-width="0.25" >-</text>
<text transform="scale(0.79,1)" x="250.25" y="11.5" textLength="56.20" lengthAdjust="spacing" font-size="9.0" fill="#f22a2a" stroke="#f22a2a" stroke-width="0.25" >O:140,1795</text>
<text transform="scale(0.79,1)" x="308.61" y="11.5" textLength="54.94" lengthAdjust="spacing" font-size="9.0" fill="#262630" stroke="#262630" stroke-width="0.25" >H:140,4790</text>
<text transform="scale(0.79,1)" x="365.19" y="11.5" textLength="53.92" lengthAdjust="spacing" font-size="9.0" fill="#262630" stroke="#262630" stroke-width="0.25" >L:140,0285</text>
<text transform="scale(0.79,1)" x="421.14" y="11.5" textLength="54.43" lengthAdjust="spacing" font-size="9.0" fill="#f22a2a" stroke="#f22a2a" stroke-width="0.25" >C:140,1870</text>
<text transform="scale(0.79,1)" x="478.23" y="11.5" textLength="39.11" lengthAdjust="spacing" font-size="9.0" fill="#f22a2a" stroke="#f22a2a" stroke-width="0.25" >-0,2305</text>
<text transform="scale(0.79,1)" x="518.61" y="11.5" textLength="47.34" lengthAdjust="spacing" font-size="9.0" fill="#f22a2a" stroke="#f22a2a" stroke-width="0.25" >-0,1642%</text>
<text transform="scale(0.79,1)" x="17.22" y="23.1" textLength="130.89" lengthAdjust="spacing" font-size="9.0" fill="#262630" stroke="#262630" stroke-width="0.25" >Moving Average Exponential</text>
<text transform="scale(0.79,1)" x="152.53" y="23.1" textLength="30.00" lengthAdjust="spacing" font-size="9.0" fill="#262630" stroke="#262630" stroke-width="0.25" >[Close,</text>
<text transform="scale(0.79,1)" x="187.97" y="23.1" textLength="18.99" lengthAdjust="spacing" font-size="9.0" fill="#262630" stroke="#262630" stroke-width="0.25" >100]</text>
<text transform="scale(0.79,1)" x="211.65" y="23.1" textLength="42.91" lengthAdjust="spacing" font-size="9.0" fill="#3232f6" stroke="#3232f6" stroke-width="0.25" >142,6450</text>
<text transform="scale(0.79,1)" x="257.59" y="23.1" textLength="35.82" lengthAdjust="spacing" font-size="9.0" fill="#f22a2a" stroke="#f22a2a" stroke-width="0.25" >-0,0497</text>
<text transform="scale(0.79,1)" x="297.09" y="23.1" textLength="46.96" lengthAdjust="spacing" font-size="9.0" fill="#f22a2a" stroke="#f22a2a" stroke-width="0.25" >-0,0348%</text>
<text transform="scale(0.79,1)" x="347.85" y="23.1" textLength="64.30" lengthAdjust="spacing" font-size="9.0" fill="#262630" stroke="#262630" stroke-width="0.25" >{EURJPY FXD}</text>
<text transform="scale(0.79,1)" x="15.95" y="34.4" textLength="127.09" lengthAdjust="spacing" font-size="9.0" fill="#262630" stroke="#262630" stroke-width="0.25" >www.tradesignalonline.com</text>
<!-- legend icons -->
<g stroke="#202020" fill="none" stroke-width="1">
<line x1="8.4" y1="3.9" x2="8.4" y2="12.6"/>
<rect x="6.5" y="6.4" width="3.9" height="4" fill="#fff"/>
<path d="M3.6,21.5 C4.9,19.5 5.6,17.3 6.6,17.3 C7.8,17.3 9.1,22.5 10.4,22.5 C11.3,22.5 11.9,20.6 12.6,19.3" stroke-width="1.1"/>
<circle cx="7.6" cy="32" r="3.5" stroke="#353540" stroke-width="0.9"/>
<path d="M9,30.7 A1.75,1.75 0 1 0 9,33.3" stroke="#353540" stroke-width="0.9"/>
</g>
<!-- logo -->
<path d="M343.6,406.7 L353.5,406.7 L342.3,416.2 Z" fill="#e3001b"/>
<text x="354.8" y="420.8" font-size="35" font-style="italic" fill="#38383c" stroke="#38383c" stroke-width="0.9" letter-spacing="1.1">&#x237;rc</text>
<text x="401.9" y="421.7" font-size="14" font-style="italic" fill="#bc2239" stroke="#bc2239" stroke-width="0.15" transform="translate(401.9,0) scale(0.86,1) translate(-401.9,0)">CAPITAL MANAGEMENT</text>
<path d="M600.6,1.2 L600.6,3.8 L604,3.8" stroke="#404040" fill="none" stroke-width="1"/>
</svg>
</body></html>
